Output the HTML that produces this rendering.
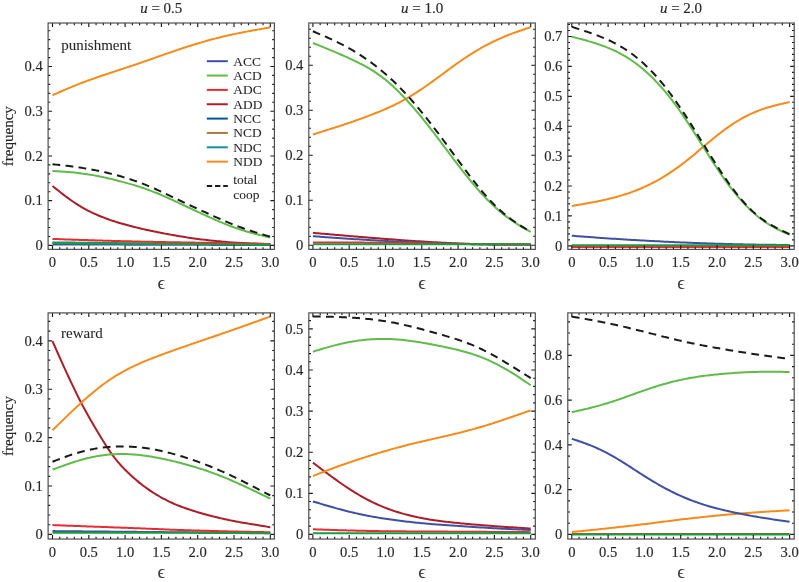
<!DOCTYPE html>
<html><head><meta charset="utf-8"><style>
html,body{margin:0;padding:0;background:#fff;width:799px;height:582px;overflow:hidden}
svg{display:block;will-change:transform}
text{stroke:#2a2a2a;stroke-width:0.16px;paint-order:stroke}
.t2,.lg{stroke-width:0.08px}
.eps{stroke-width:0.05px}
.t{font-family:"Liberation Serif",serif;font-size:14.6px;fill:#262626}
.ti{font-family:"Liberation Serif",serif;font-size:15px;fill:#262626}
.fq{font-family:"Liberation Serif",serif;font-size:15px;fill:#262626}
.t2{font-family:"Liberation Serif",serif;font-size:15px;fill:#262626}
.lg{font-family:"Liberation Serif",serif;font-size:13.4px;fill:#262626}
.eps{font-family:"Liberation Serif",serif;font-size:19px;fill:#3a3a3a}
</style></head><body>
<svg width="799" height="582" viewBox="0 0 799 582">
<rect width="799" height="582" fill="#fff"/>
<path d="M52.50,185.98 L54.31,187.44 L56.13,188.89 L57.95,190.33 L59.76,191.76 L61.58,193.18 L63.39,194.59 L65.20,195.97 L67.02,197.33 L68.84,198.66 L70.65,199.96 L72.47,201.23 L74.28,202.47 L76.09,203.67 L77.91,204.83 L79.72,205.96 L81.54,207.04 L83.36,208.09 L85.17,209.11 L86.98,210.08 L88.80,211.02 L90.62,211.93 L92.43,212.80 L94.25,213.64 L96.06,214.45 L97.88,215.23 L99.69,215.99 L101.50,216.72 L103.32,217.43 L105.14,218.12 L106.95,218.79 L108.77,219.44 L110.58,220.07 L112.40,220.68 L114.21,221.28 L116.02,221.86 L117.84,222.42 L119.66,222.98 L121.47,223.52 L123.28,224.04 L125.10,224.55 L126.92,225.06 L128.73,225.54 L130.54,226.02 L132.36,226.49 L134.18,226.95 L135.99,227.40 L137.81,227.84 L139.62,228.27 L141.44,228.69 L143.25,229.11 L145.06,229.51 L146.88,229.91 L148.69,230.31 L150.51,230.69 L152.32,231.07 L154.14,231.45 L155.95,231.82 L157.77,232.19 L159.58,232.55 L161.40,232.91 L163.22,233.26 L165.03,233.61 L166.84,233.95 L168.66,234.29 L170.47,234.63 L172.29,234.96 L174.10,235.28 L175.92,235.60 L177.74,235.92 L179.55,236.22 L181.37,236.52 L183.18,236.82 L185.00,237.10 L186.81,237.38 L188.62,237.66 L190.44,237.93 L192.25,238.19 L194.07,238.44 L195.88,238.69 L197.70,238.93 L199.51,239.17 L201.33,239.40 L203.15,239.62 L204.96,239.84 L206.77,240.05 L208.59,240.25 L210.41,240.45 L212.22,240.65 L214.03,240.84 L215.85,241.02 L217.66,241.20 L219.48,241.37 L221.29,241.54 L223.11,241.70 L224.92,241.85 L226.74,242.00 L228.56,242.14 L230.37,242.27 L232.19,242.40 L234.00,242.53 L235.81,242.65 L237.63,242.76 L239.44,242.86 L241.26,242.96 L243.07,243.06 L244.89,243.15 L246.71,243.23 L248.52,243.31 L250.33,243.39 L252.15,243.46 L253.97,243.53 L255.78,243.59 L257.60,243.66 L259.41,243.72 L261.23,243.77 L263.04,243.83 L264.86,243.88 L266.67,243.94 L268.49,243.99 L270.30,244.04" fill="none" stroke="#ab1e29" stroke-width="2.00" stroke-linejoin="round"/>
<path d="M52.50,244.42 L54.31,244.42 L56.13,244.43 L57.95,244.43 L59.76,244.44 L61.58,244.44 L63.39,244.45 L65.20,244.45 L67.02,244.46 L68.84,244.46 L70.65,244.47 L72.47,244.47 L74.28,244.48 L76.09,244.48 L77.91,244.49 L79.72,244.49 L81.54,244.50 L83.36,244.50 L85.17,244.51 L86.98,244.52 L88.80,244.52 L90.62,244.53 L92.43,244.53 L94.25,244.54 L96.06,244.54 L97.88,244.55 L99.69,244.55 L101.50,244.56 L103.32,244.56 L105.14,244.57 L106.95,244.57 L108.77,244.58 L110.58,244.58 L112.40,244.59 L114.21,244.59 L116.02,244.60 L117.84,244.60 L119.66,244.61 L121.47,244.61 L123.28,244.62 L125.10,244.62 L126.92,244.63 L128.73,244.64 L130.54,244.64 L132.36,244.65 L134.18,244.65 L135.99,244.66 L137.81,244.66 L139.62,244.67 L141.44,244.67 L143.25,244.68 L145.06,244.68 L146.88,244.69 L148.69,244.69 L150.51,244.70 L152.32,244.70 L154.14,244.71 L155.95,244.71 L157.77,244.72 L159.58,244.72 L161.40,244.73 L163.22,244.73 L165.03,244.74 L166.84,244.74 L168.66,244.75 L170.47,244.76 L172.29,244.76 L174.10,244.77 L175.92,244.77 L177.74,244.78 L179.55,244.78 L181.37,244.79 L183.18,244.79 L185.00,244.80 L186.81,244.80 L188.62,244.81 L190.44,244.81 L192.25,244.82 L194.07,244.82 L195.88,244.83 L197.70,244.83 L199.51,244.84 L201.33,244.84 L203.15,244.85 L204.96,244.85 L206.77,244.86 L208.59,244.86 L210.41,244.87 L212.22,244.88 L214.03,244.88 L215.85,244.89 L217.66,244.89 L219.48,244.90 L221.29,244.90 L223.11,244.91 L224.92,244.91 L226.74,244.92 L228.56,244.92 L230.37,244.93 L232.19,244.93 L234.00,244.94 L235.81,244.94 L237.63,244.95 L239.44,244.95 L241.26,244.96 L243.07,244.96 L244.89,244.97 L246.71,244.97 L248.52,244.98 L250.33,244.98 L252.15,244.99 L253.97,245.00 L255.78,245.00 L257.60,245.01 L259.41,245.01 L261.23,245.02 L263.04,245.02 L264.86,245.03 L266.67,245.03 L268.49,245.04 L270.30,245.04" fill="none" stroke="#4050a0" stroke-width="2.00" stroke-linejoin="round"/>
<path d="M52.50,242.36 L54.31,242.38 L56.13,242.40 L57.95,242.42 L59.76,242.44 L61.58,242.46 L63.39,242.48 L65.20,242.50 L67.02,242.53 L68.84,242.55 L70.65,242.57 L72.47,242.59 L74.28,242.61 L76.09,242.63 L77.91,242.65 L79.72,242.67 L81.54,242.69 L83.36,242.71 L85.17,242.73 L86.98,242.76 L88.80,242.78 L90.62,242.80 L92.43,242.82 L94.25,242.84 L96.06,242.86 L97.88,242.88 L99.69,242.90 L101.50,242.92 L103.32,242.94 L105.14,242.96 L106.95,242.98 L108.77,243.01 L110.58,243.03 L112.40,243.05 L114.21,243.07 L116.02,243.09 L117.84,243.11 L119.66,243.13 L121.47,243.15 L123.28,243.17 L125.10,243.19 L126.92,243.21 L128.73,243.24 L130.54,243.26 L132.36,243.28 L134.18,243.30 L135.99,243.32 L137.81,243.34 L139.62,243.36 L141.44,243.38 L143.25,243.40 L145.06,243.42 L146.88,243.44 L148.69,243.46 L150.51,243.49 L152.32,243.51 L154.14,243.53 L155.95,243.55 L157.77,243.57 L159.58,243.59 L161.40,243.61 L163.22,243.62 L165.03,243.63 L166.84,243.65 L168.66,243.66 L170.47,243.67 L172.29,243.68 L174.10,243.69 L175.92,243.71 L177.74,243.72 L179.55,243.73 L181.37,243.74 L183.18,243.75 L185.00,243.77 L186.81,243.78 L188.62,243.79 L190.44,243.80 L192.25,243.81 L194.07,243.83 L195.88,243.84 L197.70,243.85 L199.51,243.86 L201.33,243.87 L203.15,243.89 L204.96,243.90 L206.77,243.91 L208.59,243.92 L210.41,243.93 L212.22,243.94 L214.03,243.96 L215.85,243.97 L217.66,243.98 L219.48,243.99 L221.29,244.00 L223.11,244.02 L224.92,244.03 L226.74,244.04 L228.56,244.05 L230.37,244.06 L232.19,244.08 L234.00,244.09 L235.81,244.10 L237.63,244.11 L239.44,244.12 L241.26,244.14 L243.07,244.15 L244.89,244.16 L246.71,244.17 L248.52,244.18 L250.33,244.20 L252.15,244.21 L253.97,244.22 L255.78,244.23 L257.60,244.24 L259.41,244.26 L261.23,244.27 L263.04,244.28 L264.86,244.29 L266.67,244.30 L268.49,244.31 L270.30,244.33" fill="none" stroke="#159098" stroke-width="2.00" stroke-linejoin="round"/>
<path d="M52.50,238.91 L54.31,238.98 L56.13,239.05 L57.95,239.12 L59.76,239.18 L61.58,239.25 L63.39,239.31 L65.20,239.38 L67.02,239.44 L68.84,239.51 L70.65,239.57 L72.47,239.63 L74.28,239.70 L76.09,239.76 L77.91,239.82 L79.72,239.88 L81.54,239.94 L83.36,240.00 L85.17,240.06 L86.98,240.12 L88.80,240.18 L90.62,240.24 L92.43,240.30 L94.25,240.35 L96.06,240.41 L97.88,240.47 L99.69,240.52 L101.50,240.58 L103.32,240.63 L105.14,240.68 L106.95,240.74 L108.77,240.79 L110.58,240.84 L112.40,240.89 L114.21,240.94 L116.02,240.99 L117.84,241.04 L119.66,241.09 L121.47,241.14 L123.28,241.19 L125.10,241.24 L126.92,241.28 L128.73,241.33 L130.54,241.37 L132.36,241.42 L134.18,241.46 L135.99,241.51 L137.81,241.55 L139.62,241.59 L141.44,241.63 L143.25,241.67 L145.06,241.71 L146.88,241.75 L148.69,241.79 L150.51,241.83 L152.32,241.86 L154.14,241.90 L155.95,241.93 L157.77,241.97 L159.58,242.00 L161.40,242.04 L163.22,242.07 L165.03,242.11 L166.84,242.14 L168.66,242.17 L170.47,242.20 L172.29,242.23 L174.10,242.27 L175.92,242.30 L177.74,242.33 L179.55,242.36 L181.37,242.39 L183.18,242.42 L185.00,242.45 L186.81,242.48 L188.62,242.52 L190.44,242.55 L192.25,242.58 L194.07,242.61 L195.88,242.64 L197.70,242.67 L199.51,242.70 L201.33,242.74 L203.15,242.77 L204.96,242.80 L206.77,242.84 L208.59,242.87 L210.41,242.90 L212.22,242.94 L214.03,242.97 L215.85,243.01 L217.66,243.04 L219.48,243.08 L221.29,243.11 L223.11,243.14 L224.92,243.18 L226.74,243.21 L228.56,243.25 L230.37,243.28 L232.19,243.32 L234.00,243.35 L235.81,243.39 L237.63,243.42 L239.44,243.46 L241.26,243.49 L243.07,243.53 L244.89,243.56 L246.71,243.60 L248.52,243.63 L250.33,243.67 L252.15,243.70 L253.97,243.74 L255.78,243.77 L257.60,243.81 L259.41,243.85 L261.23,243.88 L263.04,243.92 L264.86,243.95 L266.67,243.99 L268.49,244.02 L270.30,244.06" fill="none" stroke="#ec2a33" stroke-width="2.00" stroke-linejoin="round"/>
<path d="M52.50,243.07 L54.31,243.09 L56.13,243.11 L57.95,243.13 L59.76,243.14 L61.58,243.16 L63.39,243.18 L65.20,243.19 L67.02,243.21 L68.84,243.23 L70.65,243.24 L72.47,243.26 L74.28,243.28 L76.09,243.29 L77.91,243.31 L79.72,243.32 L81.54,243.34 L83.36,243.35 L85.17,243.37 L86.98,243.39 L88.80,243.40 L90.62,243.42 L92.43,243.43 L94.25,243.45 L96.06,243.46 L97.88,243.48 L99.69,243.49 L101.50,243.51 L103.32,243.52 L105.14,243.53 L106.95,243.55 L108.77,243.56 L110.58,243.58 L112.40,243.59 L114.21,243.61 L116.02,243.62 L117.84,243.63 L119.66,243.65 L121.47,243.66 L123.28,243.67 L125.10,243.69 L126.92,243.70 L128.73,243.71 L130.54,243.72 L132.36,243.74 L134.18,243.75 L135.99,243.76 L137.81,243.78 L139.62,243.79 L141.44,243.80 L143.25,243.81 L145.06,243.82 L146.88,243.83 L148.69,243.84 L150.51,243.86 L152.32,243.87 L154.14,243.88 L155.95,243.89 L157.77,243.90 L159.58,243.91 L161.40,243.92 L163.22,243.92 L165.03,243.93 L166.84,243.94 L168.66,243.95 L170.47,243.96 L172.29,243.97 L174.10,243.98 L175.92,243.99 L177.74,244.00 L179.55,244.01 L181.37,244.02 L183.18,244.03 L185.00,244.04 L186.81,244.05 L188.62,244.06 L190.44,244.07 L192.25,244.08 L194.07,244.09 L195.88,244.10 L197.70,244.11 L199.51,244.12 L201.33,244.13 L203.15,244.14 L204.96,244.16 L206.77,244.17 L208.59,244.18 L210.41,244.20 L212.22,244.21 L214.03,244.22 L215.85,244.24 L217.66,244.25 L219.48,244.27 L221.29,244.28 L223.11,244.30 L224.92,244.32 L226.74,244.33 L228.56,244.35 L230.37,244.37 L232.19,244.39 L234.00,244.40 L235.81,244.42 L237.63,244.44 L239.44,244.46 L241.26,244.48 L243.07,244.50 L244.89,244.52 L246.71,244.54 L248.52,244.56 L250.33,244.58 L252.15,244.60 L253.97,244.62 L255.78,244.64 L257.60,244.66 L259.41,244.69 L261.23,244.71 L263.04,244.73 L264.86,244.75 L266.67,244.77 L268.49,244.80 L270.30,244.82" fill="none" stroke="#14a040" stroke-width="2.00" stroke-linejoin="round"/>
<path d="M52.50,171.00 L54.31,171.10 L56.13,171.20 L57.95,171.30 L59.76,171.41 L61.58,171.52 L63.39,171.64 L65.20,171.77 L67.02,171.90 L68.84,172.05 L70.65,172.20 L72.47,172.37 L74.28,172.55 L76.09,172.74 L77.91,172.94 L79.72,173.16 L81.54,173.39 L83.36,173.64 L85.17,173.89 L86.98,174.17 L88.80,174.45 L90.62,174.75 L92.43,175.06 L94.25,175.39 L96.06,175.73 L97.88,176.08 L99.69,176.45 L101.50,176.83 L103.32,177.22 L105.14,177.62 L106.95,178.03 L108.77,178.45 L110.58,178.88 L112.40,179.32 L114.21,179.77 L116.02,180.23 L117.84,180.69 L119.66,181.16 L121.47,181.64 L123.28,182.12 L125.10,182.61 L126.92,183.10 L128.73,183.60 L130.54,184.11 L132.36,184.63 L134.18,185.16 L135.99,185.71 L137.81,186.27 L139.62,186.84 L141.44,187.44 L143.25,188.05 L145.06,188.67 L146.88,189.32 L148.69,189.98 L150.51,190.65 L152.32,191.35 L154.14,192.06 L155.95,192.79 L157.77,193.53 L159.58,194.29 L161.40,195.06 L163.22,195.85 L165.03,196.64 L166.84,197.45 L168.66,198.27 L170.47,199.09 L172.29,199.93 L174.10,200.77 L175.92,201.61 L177.74,202.46 L179.55,203.31 L181.37,204.16 L183.18,205.02 L185.00,205.87 L186.81,206.73 L188.62,207.58 L190.44,208.43 L192.25,209.28 L194.07,210.13 L195.88,210.98 L197.70,211.83 L199.51,212.67 L201.33,213.51 L203.15,214.35 L204.96,215.18 L206.77,216.01 L208.59,216.83 L210.41,217.65 L212.22,218.46 L214.03,219.26 L215.85,220.06 L217.66,220.85 L219.48,221.62 L221.29,222.39 L223.11,223.14 L224.92,223.88 L226.74,224.61 L228.56,225.31 L230.37,226.01 L232.19,226.69 L234.00,227.35 L235.81,227.99 L237.63,228.62 L239.44,229.23 L241.26,229.82 L243.07,230.40 L244.89,230.96 L246.71,231.50 L248.52,232.03 L250.33,232.55 L252.15,233.05 L253.97,233.53 L255.78,234.01 L257.60,234.47 L259.41,234.93 L261.23,235.37 L263.04,235.81 L264.86,236.24 L266.67,236.67 L268.49,237.09 L270.30,237.52" fill="none" stroke="#60bb4a" stroke-width="2.00" stroke-linejoin="round"/>
<path d="M52.50,95.27 L54.31,94.45 L56.13,93.64 L57.95,92.83 L59.76,92.02 L61.58,91.22 L63.39,90.42 L65.20,89.64 L67.02,88.86 L68.84,88.09 L70.65,87.32 L72.47,86.57 L74.28,85.83 L76.09,85.10 L77.91,84.38 L79.72,83.67 L81.54,82.97 L83.36,82.28 L85.17,81.60 L86.98,80.92 L88.80,80.26 L90.62,79.61 L92.43,78.96 L94.25,78.32 L96.06,77.69 L97.88,77.06 L99.69,76.44 L101.50,75.82 L103.32,75.21 L105.14,74.61 L106.95,74.00 L108.77,73.40 L110.58,72.80 L112.40,72.21 L114.21,71.61 L116.02,71.01 L117.84,70.42 L119.66,69.82 L121.47,69.22 L123.28,68.63 L125.10,68.03 L126.92,67.42 L128.73,66.82 L130.54,66.21 L132.36,65.60 L134.18,64.99 L135.99,64.38 L137.81,63.76 L139.62,63.14 L141.44,62.51 L143.25,61.89 L145.06,61.26 L146.88,60.62 L148.69,59.99 L150.51,59.35 L152.32,58.71 L154.14,58.07 L155.95,57.42 L157.77,56.78 L159.58,56.14 L161.40,55.49 L163.22,54.85 L165.03,54.22 L166.84,53.58 L168.66,52.95 L170.47,52.32 L172.29,51.70 L174.10,51.08 L175.92,50.46 L177.74,49.85 L179.55,49.24 L181.37,48.64 L183.18,48.04 L185.00,47.45 L186.81,46.87 L188.62,46.28 L190.44,45.71 L192.25,45.14 L194.07,44.58 L195.88,44.02 L197.70,43.47 L199.51,42.92 L201.33,42.39 L203.15,41.86 L204.96,41.34 L206.77,40.82 L208.59,40.32 L210.41,39.82 L212.22,39.33 L214.03,38.85 L215.85,38.38 L217.66,37.92 L219.48,37.46 L221.29,37.02 L223.11,36.58 L224.92,36.15 L226.74,35.73 L228.56,35.32 L230.37,34.92 L232.19,34.52 L234.00,34.14 L235.81,33.76 L237.63,33.38 L239.44,33.02 L241.26,32.66 L243.07,32.30 L244.89,31.95 L246.71,31.61 L248.52,31.27 L250.33,30.94 L252.15,30.60 L253.97,30.27 L255.78,29.95 L257.60,29.62 L259.41,29.29 L261.23,28.97 L263.04,28.64 L264.86,28.32 L266.67,28.00 L268.49,27.67 L270.30,27.35" fill="none" stroke="#f68a1a" stroke-width="2.00" stroke-linejoin="round"/>
<path d="M52.50,164.23 L54.31,164.42 L56.13,164.62 L57.95,164.81 L59.76,165.01 L61.58,165.21 L63.39,165.42 L65.20,165.63 L67.02,165.84 L68.84,166.07 L70.65,166.30 L72.47,166.54 L74.28,166.78 L76.09,167.03 L77.91,167.29 L79.72,167.56 L81.54,167.84 L83.36,168.12 L85.17,168.42 L86.98,168.72 L88.80,169.04 L90.62,169.36 L92.43,169.70 L94.25,170.04 L96.06,170.39 L97.88,170.76 L99.69,171.14 L101.50,171.52 L103.32,171.92 L105.14,172.33 L106.95,172.75 L108.77,173.19 L110.58,173.64 L112.40,174.10 L114.21,174.57 L116.02,175.05 L117.84,175.55 L119.66,176.05 L121.47,176.57 L123.28,177.10 L125.10,177.65 L126.92,178.20 L128.73,178.78 L130.54,179.36 L132.36,179.96 L134.18,180.58 L135.99,181.21 L137.81,181.86 L139.62,182.53 L141.44,183.21 L143.25,183.91 L145.06,184.62 L146.88,185.36 L148.69,186.10 L150.51,186.87 L152.32,187.65 L154.14,188.45 L155.95,189.27 L157.77,190.09 L159.58,190.93 L161.40,191.78 L163.22,192.63 L165.03,193.48 L166.84,194.34 L168.66,195.21 L170.47,196.07 L172.29,196.93 L174.10,197.79 L175.92,198.66 L177.74,199.52 L179.55,200.38 L181.37,201.24 L183.18,202.09 L185.00,202.94 L186.81,203.79 L188.62,204.64 L190.44,205.49 L192.25,206.33 L194.07,207.17 L195.88,208.01 L197.70,208.85 L199.51,209.68 L201.33,210.52 L203.15,211.35 L204.96,212.18 L206.77,213.01 L208.59,213.84 L210.41,214.67 L212.22,215.49 L214.03,216.31 L215.85,217.13 L217.66,217.94 L219.48,218.74 L221.29,219.54 L223.11,220.32 L224.92,221.10 L226.74,221.87 L228.56,222.62 L230.37,223.37 L232.19,224.10 L234.00,224.81 L235.81,225.52 L237.63,226.21 L239.44,226.89 L241.26,227.55 L243.07,228.20 L244.89,228.83 L246.71,229.46 L248.52,230.07 L250.33,230.67 L252.15,231.25 L253.97,231.83 L255.78,232.40 L257.60,232.95 L259.41,233.50 L261.23,234.05 L263.04,234.58 L264.86,235.11 L266.67,235.64 L268.49,236.17 L270.30,236.69" fill="none" stroke="#1a1a1a" stroke-width="2.00" stroke-linejoin="round" stroke-dasharray="7.8,5.3"/>
<path d="M52.50,249.35 v-4.00 M52.50,23.00 v4.00 M59.76,249.35 v-2.20 M59.76,23.00 v2.20 M67.02,249.35 v-2.20 M67.02,23.00 v2.20 M74.28,249.35 v-2.20 M74.28,23.00 v2.20 M81.54,249.35 v-2.20 M81.54,23.00 v2.20 M88.80,249.35 v-4.00 M88.80,23.00 v4.00 M96.06,249.35 v-2.20 M96.06,23.00 v2.20 M103.32,249.35 v-2.20 M103.32,23.00 v2.20 M110.58,249.35 v-2.20 M110.58,23.00 v2.20 M117.84,249.35 v-2.20 M117.84,23.00 v2.20 M125.10,249.35 v-4.00 M125.10,23.00 v4.00 M132.36,249.35 v-2.20 M132.36,23.00 v2.20 M139.62,249.35 v-2.20 M139.62,23.00 v2.20 M146.88,249.35 v-2.20 M146.88,23.00 v2.20 M154.14,249.35 v-2.20 M154.14,23.00 v2.20 M161.40,249.35 v-4.00 M161.40,23.00 v4.00 M168.66,249.35 v-2.20 M168.66,23.00 v2.20 M175.92,249.35 v-2.20 M175.92,23.00 v2.20 M183.18,249.35 v-2.20 M183.18,23.00 v2.20 M190.44,249.35 v-2.20 M190.44,23.00 v2.20 M197.70,249.35 v-4.00 M197.70,23.00 v4.00 M204.96,249.35 v-2.20 M204.96,23.00 v2.20 M212.22,249.35 v-2.20 M212.22,23.00 v2.20 M219.48,249.35 v-2.20 M219.48,23.00 v2.20 M226.74,249.35 v-2.20 M226.74,23.00 v2.20 M234.00,249.35 v-4.00 M234.00,23.00 v4.00 M241.26,249.35 v-2.20 M241.26,23.00 v2.20 M248.52,249.35 v-2.20 M248.52,23.00 v2.20 M255.78,249.35 v-2.20 M255.78,23.00 v2.20 M263.04,249.35 v-2.20 M263.04,23.00 v2.20 M270.30,249.35 v-4.00 M270.30,23.00 v4.00 M48.10,245.40 h4.00 M274.40,245.40 h-4.00 M48.10,236.46 h2.20 M274.40,236.46 h-2.20 M48.10,227.51 h2.20 M274.40,227.51 h-2.20 M48.10,218.56 h2.20 M274.40,218.56 h-2.20 M48.10,209.62 h2.20 M274.40,209.62 h-2.20 M48.10,200.68 h4.00 M274.40,200.68 h-4.00 M48.10,191.73 h2.20 M274.40,191.73 h-2.20 M48.10,182.78 h2.20 M274.40,182.78 h-2.20 M48.10,173.84 h2.20 M274.40,173.84 h-2.20 M48.10,164.90 h2.20 M274.40,164.90 h-2.20 M48.10,155.95 h4.00 M274.40,155.95 h-4.00 M48.10,147.00 h2.20 M274.40,147.00 h-2.20 M48.10,138.06 h2.20 M274.40,138.06 h-2.20 M48.10,129.12 h2.20 M274.40,129.12 h-2.20 M48.10,120.17 h2.20 M274.40,120.17 h-2.20 M48.10,111.23 h4.00 M274.40,111.23 h-4.00 M48.10,102.28 h2.20 M274.40,102.28 h-2.20 M48.10,93.34 h2.20 M274.40,93.34 h-2.20 M48.10,84.39 h2.20 M274.40,84.39 h-2.20 M48.10,75.44 h2.20 M274.40,75.44 h-2.20 M48.10,66.50 h4.00 M274.40,66.50 h-4.00 M48.10,57.56 h2.20 M274.40,57.56 h-2.20 M48.10,48.61 h2.20 M274.40,48.61 h-2.20 M48.10,39.66 h2.20 M274.40,39.66 h-2.20 M48.10,30.72 h2.20 M274.40,30.72 h-2.20" stroke="#1a1a1a" stroke-width="1.15" fill="none"/>
<rect x="48.10" y="23.00" width="226.30" height="226.35" fill="none" stroke="#474747" stroke-width="1.15"/>
<text x="42.70" y="250.10" text-anchor="end" class="t">0</text>
<text x="42.70" y="205.38" text-anchor="end" class="t">0.1</text>
<text x="42.70" y="160.65" text-anchor="end" class="t">0.2</text>
<text x="42.70" y="115.93" text-anchor="end" class="t">0.3</text>
<text x="42.70" y="71.20" text-anchor="end" class="t">0.4</text>
<text x="52.50" y="266.85" text-anchor="middle" class="t">0</text>
<text x="88.80" y="266.85" text-anchor="middle" class="t">0.5</text>
<text x="125.10" y="266.85" text-anchor="middle" class="t">1.0</text>
<text x="161.40" y="266.85" text-anchor="middle" class="t">1.5</text>
<text x="197.70" y="266.85" text-anchor="middle" class="t">2.0</text>
<text x="234.00" y="266.85" text-anchor="middle" class="t">2.5</text>
<text x="270.30" y="266.85" text-anchor="middle" class="t">3.0</text>
<text x="161.25" y="288.55" text-anchor="middle" class="eps">&#x3F5;</text>
<path d="M312.90,232.84 L314.71,233.00 L316.53,233.16 L318.34,233.31 L320.16,233.47 L321.97,233.63 L323.79,233.79 L325.60,233.95 L327.42,234.10 L329.23,234.26 L331.05,234.42 L332.86,234.57 L334.68,234.73 L336.50,234.89 L338.31,235.05 L340.12,235.20 L341.94,235.36 L343.75,235.51 L345.57,235.67 L347.38,235.82 L349.20,235.98 L351.01,236.13 L352.83,236.29 L354.64,236.44 L356.46,236.59 L358.27,236.74 L360.09,236.89 L361.90,237.05 L363.72,237.20 L365.53,237.34 L367.35,237.49 L369.16,237.64 L370.98,237.79 L372.79,237.93 L374.61,238.08 L376.42,238.23 L378.24,238.37 L380.05,238.51 L381.87,238.65 L383.68,238.79 L385.50,238.93 L387.31,239.07 L389.13,239.21 L390.94,239.35 L392.76,239.48 L394.57,239.62 L396.39,239.75 L398.20,239.89 L400.02,240.02 L401.83,240.15 L403.65,240.27 L405.46,240.40 L407.28,240.53 L409.09,240.65 L410.91,240.78 L412.72,240.90 L414.54,241.02 L416.35,241.14 L418.17,241.25 L419.98,241.37 L421.80,241.48 L423.62,241.60 L425.43,241.71 L427.25,241.82 L429.06,241.93 L430.88,242.03 L432.69,242.14 L434.50,242.24 L436.32,242.34 L438.13,242.44 L439.95,242.54 L441.76,242.63 L443.58,242.72 L445.39,242.82 L447.21,242.91 L449.02,242.99 L450.84,243.08 L452.65,243.16 L454.47,243.24 L456.28,243.32 L458.10,243.40 L459.91,243.47 L461.73,243.55 L463.54,243.62 L465.36,243.69 L467.17,243.75 L468.99,243.82 L470.80,243.88 L472.62,243.94 L474.43,243.99 L476.25,244.05 L478.06,244.10 L479.88,244.15 L481.69,244.20 L483.51,244.24 L485.32,244.28 L487.14,244.32 L488.95,244.36 L490.77,244.39 L492.58,244.42 L494.40,244.45 L496.21,244.48 L498.03,244.50 L499.84,244.52 L501.66,244.54 L503.47,244.55 L505.29,244.57 L507.11,244.57 L508.92,244.58 L510.73,244.58 L512.55,244.58 L514.37,244.58 L516.18,244.58 L518.00,244.57 L519.81,244.55 L521.62,244.54 L523.44,244.52 L525.25,244.50 L527.07,244.47 L528.88,244.45 L530.70,244.42" fill="none" stroke="#ab1e29" stroke-width="2.00" stroke-linejoin="round"/>
<path d="M312.90,236.20 L314.71,236.34 L316.53,236.48 L318.34,236.61 L320.16,236.75 L321.97,236.88 L323.79,237.02 L325.60,237.15 L327.42,237.28 L329.23,237.41 L331.05,237.54 L332.86,237.67 L334.68,237.80 L336.50,237.92 L338.31,238.05 L340.12,238.17 L341.94,238.30 L343.75,238.42 L345.57,238.54 L347.38,238.66 L349.20,238.78 L351.01,238.90 L352.83,239.02 L354.64,239.14 L356.46,239.25 L358.27,239.37 L360.09,239.48 L361.90,239.59 L363.72,239.70 L365.53,239.81 L367.35,239.92 L369.16,240.03 L370.98,240.14 L372.79,240.25 L374.61,240.35 L376.42,240.45 L378.24,240.56 L380.05,240.66 L381.87,240.76 L383.68,240.86 L385.50,240.96 L387.31,241.05 L389.13,241.15 L390.94,241.24 L392.76,241.34 L394.57,241.43 L396.39,241.52 L398.20,241.61 L400.02,241.70 L401.83,241.79 L403.65,241.87 L405.46,241.96 L407.28,242.04 L409.09,242.12 L410.91,242.20 L412.72,242.28 L414.54,242.36 L416.35,242.44 L418.17,242.51 L419.98,242.59 L421.80,242.66 L423.62,242.73 L425.43,242.81 L427.25,242.87 L429.06,242.94 L430.88,243.01 L432.69,243.07 L434.50,243.14 L436.32,243.20 L438.13,243.26 L439.95,243.32 L441.76,243.38 L443.58,243.44 L445.39,243.49 L447.21,243.55 L449.02,243.60 L450.84,243.65 L452.65,243.70 L454.47,243.75 L456.28,243.80 L458.10,243.84 L459.91,243.89 L461.73,243.93 L463.54,243.97 L465.36,244.01 L467.17,244.05 L468.99,244.09 L470.80,244.12 L472.62,244.15 L474.43,244.19 L476.25,244.22 L478.06,244.25 L479.88,244.27 L481.69,244.30 L483.51,244.32 L485.32,244.35 L487.14,244.37 L488.95,244.39 L490.77,244.41 L492.58,244.42 L494.40,244.44 L496.21,244.45 L498.03,244.46 L499.84,244.47 L501.66,244.48 L503.47,244.49 L505.29,244.49 L507.11,244.50 L508.92,244.50 L510.73,244.50 L512.55,244.50 L514.37,244.49 L516.18,244.49 L518.00,244.48 L519.81,244.48 L521.62,244.47 L523.44,244.45 L525.25,244.44 L527.07,244.42 L528.88,244.41 L530.70,244.39" fill="none" stroke="#4050a0" stroke-width="2.00" stroke-linejoin="round"/>
<path d="M312.90,242.50 L314.71,242.50 L316.53,242.50 L318.34,242.50 L320.16,242.50 L321.97,242.50 L323.79,242.51 L325.60,242.51 L327.42,242.51 L329.23,242.51 L331.05,242.52 L332.86,242.52 L334.68,242.52 L336.50,242.53 L338.31,242.53 L340.12,242.54 L341.94,242.54 L343.75,242.55 L345.57,242.55 L347.38,242.56 L349.20,242.57 L351.01,242.57 L352.83,242.58 L354.64,242.58 L356.46,242.59 L358.27,242.60 L360.09,242.61 L361.90,242.61 L363.72,242.62 L365.53,242.63 L367.35,242.64 L369.16,242.64 L370.98,242.65 L372.79,242.66 L374.61,242.67 L376.42,242.68 L378.24,242.69 L380.05,242.70 L381.87,242.71 L383.68,242.72 L385.50,242.72 L387.31,242.74 L389.13,242.75 L390.94,242.76 L392.76,242.78 L394.57,242.80 L396.39,242.82 L398.20,242.85 L400.02,242.87 L401.83,242.90 L403.65,242.93 L405.46,242.96 L407.28,242.99 L409.09,243.03 L410.91,243.06 L412.72,243.10 L414.54,243.13 L416.35,243.17 L418.17,243.21 L419.98,243.25 L421.80,243.29 L423.62,243.32 L425.43,243.36 L427.25,243.40 L429.06,243.44 L430.88,243.48 L432.69,243.52 L434.50,243.56 L436.32,243.60 L438.13,243.64 L439.95,243.68 L441.76,243.72 L443.58,243.75 L445.39,243.79 L447.21,243.82 L449.02,243.85 L450.84,243.89 L452.65,243.92 L454.47,243.95 L456.28,243.97 L458.10,244.00 L459.91,244.02 L461.73,244.04 L463.54,244.06 L465.36,244.08 L467.17,244.10 L468.99,244.12 L470.80,244.13 L472.62,244.15 L474.43,244.17 L476.25,244.18 L478.06,244.20 L479.88,244.22 L481.69,244.23 L483.51,244.25 L485.32,244.26 L487.14,244.28 L488.95,244.29 L490.77,244.31 L492.58,244.32 L494.40,244.34 L496.21,244.35 L498.03,244.36 L499.84,244.38 L501.66,244.39 L503.47,244.40 L505.29,244.41 L507.11,244.42 L508.92,244.44 L510.73,244.45 L512.55,244.46 L514.37,244.47 L516.18,244.47 L518.00,244.48 L519.81,244.49 L521.62,244.50 L523.44,244.50 L525.25,244.51 L527.07,244.52 L528.88,244.52 L530.70,244.52" fill="none" stroke="#ec2a33" stroke-width="2.00" stroke-linejoin="round"/>
<path d="M312.90,244.21 L314.71,244.21 L316.53,244.21 L318.34,244.21 L320.16,244.21 L321.97,244.21 L323.79,244.21 L325.60,244.21 L327.42,244.21 L329.23,244.21 L331.05,244.21 L332.86,244.21 L334.68,244.21 L336.50,244.21 L338.31,244.21 L340.12,244.21 L341.94,244.21 L343.75,244.21 L345.57,244.21 L347.38,244.21 L349.20,244.21 L351.01,244.21 L352.83,244.21 L354.64,244.21 L356.46,244.21 L358.27,244.21 L360.09,244.21 L361.90,244.21 L363.72,244.21 L365.53,244.21 L367.35,244.21 L369.16,244.21 L370.98,244.21 L372.79,244.21 L374.61,244.21 L376.42,244.21 L378.24,244.21 L380.05,244.21 L381.87,244.21 L383.68,244.21 L385.50,244.21 L387.31,244.21 L389.13,244.21 L390.94,244.21 L392.76,244.21 L394.57,244.21 L396.39,244.21 L398.20,244.21 L400.02,244.21 L401.83,244.21 L403.65,244.21 L405.46,244.21 L407.28,244.21 L409.09,244.21 L410.91,244.21 L412.72,244.21 L414.54,244.21 L416.35,244.21 L418.17,244.21 L419.98,244.21 L421.80,244.21 L423.62,244.21 L425.43,244.21 L427.25,244.21 L429.06,244.21 L430.88,244.21 L432.69,244.21 L434.50,244.21 L436.32,244.21 L438.13,244.21 L439.95,244.21 L441.76,244.21 L443.58,244.21 L445.39,244.21 L447.21,244.21 L449.02,244.21 L450.84,244.21 L452.65,244.21 L454.47,244.21 L456.28,244.21 L458.10,244.21 L459.91,244.21 L461.73,244.21 L463.54,244.21 L465.36,244.21 L467.17,244.21 L468.99,244.21 L470.80,244.21 L472.62,244.21 L474.43,244.21 L476.25,244.21 L478.06,244.21 L479.88,244.21 L481.69,244.21 L483.51,244.21 L485.32,244.21 L487.14,244.21 L488.95,244.21 L490.77,244.21 L492.58,244.21 L494.40,244.21 L496.21,244.21 L498.03,244.21 L499.84,244.21 L501.66,244.21 L503.47,244.21 L505.29,244.21 L507.11,244.21 L508.92,244.21 L510.73,244.21 L512.55,244.21 L514.37,244.21 L516.18,244.21 L518.00,244.21 L519.81,244.21 L521.62,244.21 L523.44,244.21 L525.25,244.21 L527.07,244.21 L528.88,244.21 L530.70,244.21" fill="none" stroke="#14a040" stroke-width="2.00" stroke-linejoin="round"/>
<path d="M312.90,134.50 L314.71,133.93 L316.53,133.36 L318.34,132.78 L320.16,132.21 L321.97,131.64 L323.79,131.06 L325.60,130.49 L327.42,129.91 L329.23,129.34 L331.05,128.76 L332.86,128.18 L334.68,127.60 L336.50,127.02 L338.31,126.43 L340.12,125.84 L341.94,125.25 L343.75,124.65 L345.57,124.05 L347.38,123.44 L349.20,122.83 L351.01,122.21 L352.83,121.58 L354.64,120.95 L356.46,120.31 L358.27,119.66 L360.09,119.01 L361.90,118.35 L363.72,117.68 L365.53,117.01 L367.35,116.33 L369.16,115.64 L370.98,114.94 L372.79,114.24 L374.61,113.52 L376.42,112.80 L378.24,112.07 L380.05,111.32 L381.87,110.57 L383.68,109.80 L385.50,109.01 L387.31,108.22 L389.13,107.40 L390.94,106.57 L392.76,105.72 L394.57,104.85 L396.39,103.95 L398.20,103.03 L400.02,102.09 L401.83,101.12 L403.65,100.13 L405.46,99.11 L407.28,98.07 L409.09,97.01 L410.91,95.93 L412.72,94.82 L414.54,93.69 L416.35,92.54 L418.17,91.37 L419.98,90.18 L421.80,88.97 L423.62,87.74 L425.43,86.50 L427.25,85.23 L429.06,83.95 L430.88,82.66 L432.69,81.36 L434.50,80.04 L436.32,78.71 L438.13,77.37 L439.95,76.03 L441.76,74.69 L443.58,73.34 L445.39,71.99 L447.21,70.64 L449.02,69.30 L450.84,67.97 L452.65,66.64 L454.47,65.32 L456.28,64.02 L458.10,62.73 L459.91,61.46 L461.73,60.20 L463.54,58.97 L465.36,57.75 L467.17,56.55 L468.99,55.38 L470.80,54.22 L472.62,53.08 L474.43,51.97 L476.25,50.87 L478.06,49.80 L479.88,48.74 L481.69,47.71 L483.51,46.70 L485.32,45.72 L487.14,44.75 L488.95,43.80 L490.77,42.88 L492.58,41.98 L494.40,41.10 L496.21,40.24 L498.03,39.41 L499.84,38.59 L501.66,37.80 L503.47,37.02 L505.29,36.26 L507.11,35.52 L508.92,34.80 L510.73,34.10 L512.55,33.41 L514.37,32.74 L516.18,32.08 L518.00,31.44 L519.81,30.80 L521.62,30.18 L523.44,29.57 L525.25,28.96 L527.07,28.36 L528.88,27.76 L530.70,27.17" fill="none" stroke="#f68a1a" stroke-width="2.00" stroke-linejoin="round"/>
<path d="M312.90,43.04 L314.71,43.75 L316.53,44.47 L318.34,45.19 L320.16,45.92 L321.97,46.64 L323.79,47.37 L325.60,48.11 L327.42,48.85 L329.23,49.59 L331.05,50.35 L332.86,51.11 L334.68,51.87 L336.50,52.65 L338.31,53.43 L340.12,54.22 L341.94,55.01 L343.75,55.82 L345.57,56.64 L347.38,57.46 L349.20,58.29 L351.01,59.14 L352.83,59.99 L354.64,60.86 L356.46,61.74 L358.27,62.64 L360.09,63.55 L361.90,64.48 L363.72,65.44 L365.53,66.42 L367.35,67.43 L369.16,68.48 L370.98,69.56 L372.79,70.68 L374.61,71.85 L376.42,73.05 L378.24,74.31 L380.05,75.61 L381.87,76.96 L383.68,78.35 L385.50,79.80 L387.31,81.29 L389.13,82.84 L390.94,84.43 L392.76,86.08 L394.57,87.76 L396.39,89.50 L398.20,91.28 L400.02,93.10 L401.83,94.95 L403.65,96.85 L405.46,98.78 L407.28,100.74 L409.09,102.73 L410.91,104.76 L412.72,106.82 L414.54,108.91 L416.35,111.03 L418.17,113.18 L419.98,115.36 L421.80,117.57 L423.62,119.81 L425.43,122.07 L427.25,124.37 L429.06,126.68 L430.88,129.02 L432.69,131.38 L434.50,133.76 L436.32,136.15 L438.13,138.56 L439.95,140.97 L441.76,143.39 L443.58,145.81 L445.39,148.23 L447.21,150.66 L449.02,153.07 L450.84,155.49 L452.65,157.90 L454.47,160.30 L456.28,162.68 L458.10,165.06 L459.91,167.41 L461.73,169.75 L463.54,172.07 L465.36,174.37 L467.17,176.65 L468.99,178.90 L470.80,181.12 L472.62,183.30 L474.43,185.46 L476.25,187.58 L478.06,189.67 L479.88,191.72 L481.69,193.72 L483.51,195.69 L485.32,197.61 L487.14,199.49 L488.95,201.32 L490.77,203.11 L492.58,204.86 L494.40,206.56 L496.21,208.21 L498.03,209.82 L499.84,211.38 L501.66,212.89 L503.47,214.36 L505.29,215.78 L507.11,217.16 L508.92,218.50 L510.73,219.79 L512.55,221.05 L514.37,222.26 L516.18,223.44 L518.00,224.59 L519.81,225.70 L521.62,226.79 L523.44,227.86 L525.25,228.91 L527.07,229.95 L528.88,230.98 L530.70,232.00" fill="none" stroke="#60bb4a" stroke-width="2.00" stroke-linejoin="round"/>
<path d="M312.90,31.28 L314.71,32.04 L316.53,32.81 L318.34,33.58 L320.16,34.35 L321.97,35.13 L323.79,35.91 L325.60,36.71 L327.42,37.51 L329.23,38.33 L331.05,39.16 L332.86,40.00 L334.68,40.86 L336.50,41.74 L338.31,42.63 L340.12,43.54 L341.94,44.47 L343.75,45.42 L345.57,46.39 L347.38,47.38 L349.20,48.39 L351.01,49.42 L352.83,50.48 L354.64,51.56 L356.46,52.66 L358.27,53.79 L360.09,54.95 L361.90,56.13 L363.72,57.34 L365.53,58.57 L367.35,59.83 L369.16,61.12 L370.98,62.43 L372.79,63.78 L374.61,65.15 L376.42,66.55 L378.24,67.98 L380.05,69.44 L381.87,70.93 L383.68,72.46 L385.50,74.02 L387.31,75.61 L389.13,77.24 L390.94,78.90 L392.76,80.59 L394.57,82.33 L396.39,84.09 L398.20,85.89 L400.02,87.73 L401.83,89.59 L403.65,91.50 L405.46,93.43 L407.28,95.40 L409.09,97.40 L410.91,99.43 L412.72,101.49 L414.54,103.59 L416.35,105.72 L418.17,107.87 L419.98,110.06 L421.80,112.27 L423.62,114.51 L425.43,116.77 L427.25,119.05 L429.06,121.36 L430.88,123.69 L432.69,126.04 L434.50,128.41 L436.32,130.79 L438.13,133.19 L439.95,135.61 L441.76,138.04 L443.58,140.48 L445.39,142.94 L447.21,145.40 L449.02,147.87 L450.84,150.35 L452.65,152.83 L454.47,155.30 L456.28,157.78 L458.10,160.25 L459.91,162.71 L461.73,165.17 L463.54,167.61 L465.36,170.04 L467.17,172.45 L468.99,174.85 L470.80,177.23 L472.62,179.58 L474.43,181.91 L476.25,184.21 L478.06,186.48 L479.88,188.71 L481.69,190.90 L483.51,193.04 L485.32,195.14 L487.14,197.18 L488.95,199.18 L490.77,201.12 L492.58,203.01 L494.40,204.84 L496.21,206.62 L498.03,208.34 L499.84,210.01 L501.66,211.62 L503.47,213.19 L505.29,214.70 L507.11,216.16 L508.92,217.57 L510.73,218.93 L512.55,220.26 L514.37,221.54 L516.18,222.78 L518.00,223.98 L519.81,225.15 L521.62,226.30 L523.44,227.42 L525.25,228.52 L527.07,229.61 L528.88,230.69 L530.70,231.76" fill="none" stroke="#1a1a1a" stroke-width="2.00" stroke-linejoin="round" stroke-dasharray="7.8,5.3"/>
<path d="M312.90,249.35 v-4.00 M312.90,23.00 v4.00 M320.16,249.35 v-2.20 M320.16,23.00 v2.20 M327.42,249.35 v-2.20 M327.42,23.00 v2.20 M334.68,249.35 v-2.20 M334.68,23.00 v2.20 M341.94,249.35 v-2.20 M341.94,23.00 v2.20 M349.20,249.35 v-4.00 M349.20,23.00 v4.00 M356.46,249.35 v-2.20 M356.46,23.00 v2.20 M363.72,249.35 v-2.20 M363.72,23.00 v2.20 M370.98,249.35 v-2.20 M370.98,23.00 v2.20 M378.24,249.35 v-2.20 M378.24,23.00 v2.20 M385.50,249.35 v-4.00 M385.50,23.00 v4.00 M392.76,249.35 v-2.20 M392.76,23.00 v2.20 M400.02,249.35 v-2.20 M400.02,23.00 v2.20 M407.28,249.35 v-2.20 M407.28,23.00 v2.20 M414.54,249.35 v-2.20 M414.54,23.00 v2.20 M421.80,249.35 v-4.00 M421.80,23.00 v4.00 M429.06,249.35 v-2.20 M429.06,23.00 v2.20 M436.32,249.35 v-2.20 M436.32,23.00 v2.20 M443.58,249.35 v-2.20 M443.58,23.00 v2.20 M450.84,249.35 v-2.20 M450.84,23.00 v2.20 M458.10,249.35 v-4.00 M458.10,23.00 v4.00 M465.36,249.35 v-2.20 M465.36,23.00 v2.20 M472.62,249.35 v-2.20 M472.62,23.00 v2.20 M479.88,249.35 v-2.20 M479.88,23.00 v2.20 M487.14,249.35 v-2.20 M487.14,23.00 v2.20 M494.40,249.35 v-4.00 M494.40,23.00 v4.00 M501.66,249.35 v-2.20 M501.66,23.00 v2.20 M508.92,249.35 v-2.20 M508.92,23.00 v2.20 M516.18,249.35 v-2.20 M516.18,23.00 v2.20 M523.44,249.35 v-2.20 M523.44,23.00 v2.20 M530.70,249.35 v-4.00 M530.70,23.00 v4.00 M308.80,245.20 h4.00 M535.30,245.20 h-4.00 M308.80,236.20 h2.20 M535.30,236.20 h-2.20 M308.80,227.20 h2.20 M535.30,227.20 h-2.20 M308.80,218.20 h2.20 M535.30,218.20 h-2.20 M308.80,209.20 h2.20 M535.30,209.20 h-2.20 M308.80,200.20 h4.00 M535.30,200.20 h-4.00 M308.80,191.20 h2.20 M535.30,191.20 h-2.20 M308.80,182.20 h2.20 M535.30,182.20 h-2.20 M308.80,173.20 h2.20 M535.30,173.20 h-2.20 M308.80,164.20 h2.20 M535.30,164.20 h-2.20 M308.80,155.20 h4.00 M535.30,155.20 h-4.00 M308.80,146.20 h2.20 M535.30,146.20 h-2.20 M308.80,137.20 h2.20 M535.30,137.20 h-2.20 M308.80,128.20 h2.20 M535.30,128.20 h-2.20 M308.80,119.20 h2.20 M535.30,119.20 h-2.20 M308.80,110.20 h4.00 M535.30,110.20 h-4.00 M308.80,101.20 h2.20 M535.30,101.20 h-2.20 M308.80,92.20 h2.20 M535.30,92.20 h-2.20 M308.80,83.20 h2.20 M535.30,83.20 h-2.20 M308.80,74.20 h2.20 M535.30,74.20 h-2.20 M308.80,65.20 h4.00 M535.30,65.20 h-4.00 M308.80,56.20 h2.20 M535.30,56.20 h-2.20 M308.80,47.20 h2.20 M535.30,47.20 h-2.20 M308.80,38.20 h2.20 M535.30,38.20 h-2.20 M308.80,29.20 h2.20 M535.30,29.20 h-2.20" stroke="#1a1a1a" stroke-width="1.15" fill="none"/>
<rect x="308.80" y="23.00" width="226.50" height="226.35" fill="none" stroke="#474747" stroke-width="1.15"/>
<text x="303.40" y="249.90" text-anchor="end" class="t">0</text>
<text x="303.40" y="204.90" text-anchor="end" class="t">0.1</text>
<text x="303.40" y="159.90" text-anchor="end" class="t">0.2</text>
<text x="303.40" y="114.90" text-anchor="end" class="t">0.3</text>
<text x="303.40" y="69.90" text-anchor="end" class="t">0.4</text>
<text x="312.90" y="266.85" text-anchor="middle" class="t">0</text>
<text x="349.20" y="266.85" text-anchor="middle" class="t">0.5</text>
<text x="385.50" y="266.85" text-anchor="middle" class="t">1.0</text>
<text x="421.80" y="266.85" text-anchor="middle" class="t">1.5</text>
<text x="458.10" y="266.85" text-anchor="middle" class="t">2.0</text>
<text x="494.40" y="266.85" text-anchor="middle" class="t">2.5</text>
<text x="530.70" y="266.85" text-anchor="middle" class="t">3.0</text>
<text x="422.05" y="288.55" text-anchor="middle" class="eps">&#x3F5;</text>
<path d="M571.80,247.00 L573.62,247.00 L575.43,247.00 L577.25,247.00 L579.06,247.00 L580.88,247.00 L582.69,247.00 L584.50,247.00 L586.32,247.00 L588.13,247.00 L589.95,247.00 L591.76,247.00 L593.58,247.00 L595.39,247.00 L597.21,247.00 L599.02,247.00 L600.84,247.00 L602.65,247.00 L604.47,247.00 L606.28,247.00 L608.10,247.00 L609.91,247.00 L611.73,247.00 L613.54,247.00 L615.36,247.00 L617.17,247.00 L618.99,247.00 L620.80,247.00 L622.62,247.00 L624.43,247.00 L626.25,247.00 L628.06,247.00 L629.88,247.00 L631.69,247.00 L633.51,247.00 L635.32,247.00 L637.14,247.00 L638.95,247.00 L640.77,247.00 L642.58,247.00 L644.40,247.00 L646.21,247.00 L648.03,247.00 L649.84,247.00 L651.66,247.00 L653.47,247.00 L655.29,247.00 L657.10,247.00 L658.92,247.00 L660.73,247.00 L662.55,247.00 L664.37,247.00 L666.18,247.00 L668.00,247.00 L669.81,247.00 L671.62,247.00 L673.44,247.00 L675.25,247.00 L677.07,247.00 L678.88,247.00 L680.70,247.00 L682.51,247.00 L684.33,247.00 L686.14,247.00 L687.96,247.00 L689.77,247.00 L691.59,247.00 L693.40,247.00 L695.22,247.00 L697.03,247.00 L698.85,247.00 L700.66,247.00 L702.48,247.00 L704.29,247.00 L706.11,247.00 L707.92,247.00 L709.74,247.00 L711.55,247.00 L713.37,247.00 L715.18,247.00 L717.00,247.00 L718.81,247.00 L720.63,247.00 L722.44,247.00 L724.26,247.00 L726.07,247.00 L727.89,247.00 L729.70,247.00 L731.52,247.00 L733.33,247.00 L735.15,247.00 L736.96,247.00 L738.78,247.00 L740.59,247.00 L742.41,247.00 L744.22,247.00 L746.04,247.00 L747.86,247.00 L749.67,247.00 L751.48,247.00 L753.30,247.00 L755.12,247.00 L756.93,247.00 L758.74,247.00 L760.56,247.00 L762.38,247.00 L764.19,247.00 L766.00,247.00 L767.82,247.00 L769.63,247.00 L771.45,247.00 L773.26,247.00 L775.08,247.00 L776.89,247.00 L778.71,247.00 L780.52,247.00 L782.34,247.00 L784.15,247.00 L785.97,247.00 L787.78,247.00 L789.60,247.00" fill="none" stroke="#ec2a33" stroke-width="2.00" stroke-linejoin="round"/>
<path d="M571.80,235.69 L573.62,235.84 L575.43,235.98 L577.25,236.13 L579.06,236.27 L580.88,236.41 L582.69,236.55 L584.50,236.69 L586.32,236.83 L588.13,236.96 L589.95,237.10 L591.76,237.23 L593.58,237.37 L595.39,237.50 L597.21,237.63 L599.02,237.76 L600.84,237.88 L602.65,238.01 L604.47,238.14 L606.28,238.26 L608.10,238.39 L609.91,238.51 L611.73,238.63 L613.54,238.75 L615.36,238.87 L617.17,238.99 L618.99,239.10 L620.80,239.22 L622.62,239.33 L624.43,239.44 L626.25,239.56 L628.06,239.67 L629.88,239.78 L631.69,239.89 L633.51,239.99 L635.32,240.10 L637.14,240.20 L638.95,240.31 L640.77,240.41 L642.58,240.51 L644.40,240.61 L646.21,240.71 L648.03,240.81 L649.84,240.91 L651.66,241.00 L653.47,241.10 L655.29,241.19 L657.10,241.28 L658.92,241.37 L660.73,241.46 L662.55,241.55 L664.37,241.64 L666.18,241.73 L668.00,241.81 L669.81,241.90 L671.62,241.98 L673.44,242.06 L675.25,242.14 L677.07,242.22 L678.88,242.30 L680.70,242.38 L682.51,242.46 L684.33,242.53 L686.14,242.61 L687.96,242.68 L689.77,242.75 L691.59,242.82 L693.40,242.89 L695.22,242.96 L697.03,243.03 L698.85,243.09 L700.66,243.16 L702.48,243.22 L704.29,243.28 L706.11,243.35 L707.92,243.41 L709.74,243.47 L711.55,243.53 L713.37,243.58 L715.18,243.64 L717.00,243.69 L718.81,243.75 L720.63,243.80 L722.44,243.85 L724.26,243.90 L726.07,243.95 L727.89,244.00 L729.70,244.05 L731.52,244.09 L733.33,244.14 L735.15,244.18 L736.96,244.23 L738.78,244.27 L740.59,244.31 L742.41,244.35 L744.22,244.39 L746.04,244.42 L747.86,244.46 L749.67,244.50 L751.48,244.53 L753.30,244.56 L755.12,244.60 L756.93,244.63 L758.74,244.66 L760.56,244.68 L762.38,244.71 L764.19,244.74 L766.00,244.76 L767.82,244.79 L769.63,244.81 L771.45,244.83 L773.26,244.85 L775.08,244.87 L776.89,244.89 L778.71,244.91 L780.52,244.93 L782.34,244.94 L784.15,244.96 L785.97,244.97 L787.78,244.98 L789.60,244.99" fill="none" stroke="#4050a0" stroke-width="2.00" stroke-linejoin="round"/>
<path d="M571.80,245.20 L573.62,245.20 L575.43,245.20 L577.25,245.20 L579.06,245.20 L580.88,245.20 L582.69,245.20 L584.50,245.20 L586.32,245.20 L588.13,245.20 L589.95,245.20 L591.76,245.20 L593.58,245.20 L595.39,245.20 L597.21,245.20 L599.02,245.20 L600.84,245.20 L602.65,245.20 L604.47,245.20 L606.28,245.20 L608.10,245.20 L609.91,245.20 L611.73,245.20 L613.54,245.20 L615.36,245.20 L617.17,245.20 L618.99,245.20 L620.80,245.20 L622.62,245.20 L624.43,245.20 L626.25,245.20 L628.06,245.20 L629.88,245.20 L631.69,245.20 L633.51,245.20 L635.32,245.20 L637.14,245.20 L638.95,245.20 L640.77,245.20 L642.58,245.20 L644.40,245.20 L646.21,245.20 L648.03,245.20 L649.84,245.20 L651.66,245.20 L653.47,245.20 L655.29,245.20 L657.10,245.20 L658.92,245.20 L660.73,245.20 L662.55,245.20 L664.37,245.20 L666.18,245.20 L668.00,245.20 L669.81,245.20 L671.62,245.20 L673.44,245.20 L675.25,245.20 L677.07,245.20 L678.88,245.20 L680.70,245.20 L682.51,245.20 L684.33,245.20 L686.14,245.20 L687.96,245.20 L689.77,245.20 L691.59,245.20 L693.40,245.20 L695.22,245.20 L697.03,245.20 L698.85,245.20 L700.66,245.20 L702.48,245.20 L704.29,245.20 L706.11,245.20 L707.92,245.20 L709.74,245.20 L711.55,245.20 L713.37,245.20 L715.18,245.20 L717.00,245.20 L718.81,245.20 L720.63,245.20 L722.44,245.20 L724.26,245.20 L726.07,245.20 L727.89,245.20 L729.70,245.20 L731.52,245.20 L733.33,245.20 L735.15,245.20 L736.96,245.20 L738.78,245.20 L740.59,245.20 L742.41,245.20 L744.22,245.20 L746.04,245.20 L747.86,245.20 L749.67,245.20 L751.48,245.20 L753.30,245.20 L755.12,245.20 L756.93,245.20 L758.74,245.20 L760.56,245.20 L762.38,245.20 L764.19,245.20 L766.00,245.20 L767.82,245.20 L769.63,245.20 L771.45,245.20 L773.26,245.20 L775.08,245.20 L776.89,245.20 L778.71,245.20 L780.52,245.20 L782.34,245.20 L784.15,245.20 L785.97,245.20 L787.78,245.20 L789.60,245.20" fill="none" stroke="#14a040" stroke-width="2.00" stroke-linejoin="round"/>
<path d="M571.80,205.97 L573.62,205.66 L575.43,205.36 L577.25,205.05 L579.06,204.74 L580.88,204.43 L582.69,204.12 L584.50,203.80 L586.32,203.48 L588.13,203.15 L589.95,202.82 L591.76,202.48 L593.58,202.13 L595.39,201.78 L597.21,201.41 L599.02,201.04 L600.84,200.66 L602.65,200.27 L604.47,199.86 L606.28,199.44 L608.10,199.02 L609.91,198.58 L611.73,198.12 L613.54,197.66 L615.36,197.17 L617.17,196.68 L618.99,196.16 L620.80,195.64 L622.62,195.09 L624.43,194.52 L626.25,193.94 L628.06,193.34 L629.88,192.71 L631.69,192.07 L633.51,191.40 L635.32,190.71 L637.14,190.00 L638.95,189.27 L640.77,188.51 L642.58,187.73 L644.40,186.92 L646.21,186.09 L648.03,185.23 L649.84,184.34 L651.66,183.44 L653.47,182.50 L655.29,181.54 L657.10,180.55 L658.92,179.54 L660.73,178.50 L662.55,177.44 L664.37,176.34 L666.18,175.22 L668.00,174.07 L669.81,172.89 L671.62,171.69 L673.44,170.45 L675.25,169.19 L677.07,167.90 L678.88,166.58 L680.70,165.24 L682.51,163.87 L684.33,162.47 L686.14,161.05 L687.96,159.61 L689.77,158.14 L691.59,156.66 L693.40,155.16 L695.22,153.65 L697.03,152.13 L698.85,150.60 L700.66,149.07 L702.48,147.54 L704.29,146.01 L706.11,144.48 L707.92,142.96 L709.74,141.45 L711.55,139.95 L713.37,138.47 L715.18,137.00 L717.00,135.55 L718.81,134.12 L720.63,132.72 L722.44,131.34 L724.26,129.98 L726.07,128.66 L727.89,127.36 L729.70,126.10 L731.52,124.87 L733.33,123.67 L735.15,122.50 L736.96,121.38 L738.78,120.28 L740.59,119.22 L742.41,118.20 L744.22,117.21 L746.04,116.26 L747.86,115.35 L749.67,114.47 L751.48,113.62 L753.30,112.81 L755.12,112.04 L756.93,111.29 L758.74,110.58 L760.56,109.90 L762.38,109.25 L764.19,108.63 L766.00,108.04 L767.82,107.48 L769.63,106.94 L771.45,106.42 L773.26,105.92 L775.08,105.45 L776.89,104.99 L778.71,104.55 L780.52,104.12 L782.34,103.70 L784.15,103.29 L785.97,102.89 L787.78,102.49 L789.60,102.09" fill="none" stroke="#f68a1a" stroke-width="2.00" stroke-linejoin="round"/>
<path d="M571.80,36.70 L573.62,37.17 L575.43,37.64 L577.25,38.12 L579.06,38.60 L580.88,39.08 L582.69,39.57 L584.50,40.06 L586.32,40.57 L588.13,41.09 L589.95,41.61 L591.76,42.15 L593.58,42.71 L595.39,43.28 L597.21,43.87 L599.02,44.47 L600.84,45.10 L602.65,45.75 L604.47,46.42 L606.28,47.12 L608.10,47.84 L609.91,48.59 L611.73,49.37 L613.54,50.18 L615.36,51.03 L617.17,51.91 L618.99,52.83 L620.80,53.79 L622.62,54.80 L624.43,55.84 L626.25,56.93 L628.06,58.06 L629.88,59.24 L631.69,60.46 L633.51,61.73 L635.32,63.05 L637.14,64.41 L638.95,65.82 L640.77,67.28 L642.58,68.78 L644.40,70.33 L646.21,71.93 L648.03,73.58 L649.84,75.28 L651.66,77.03 L653.47,78.83 L655.29,80.68 L657.10,82.58 L658.92,84.53 L660.73,86.54 L662.55,88.60 L664.37,90.71 L666.18,92.88 L668.00,95.10 L669.81,97.38 L671.62,99.71 L673.44,102.09 L675.25,104.52 L677.07,107.00 L678.88,109.53 L680.70,112.11 L682.51,114.73 L684.33,117.40 L686.14,120.10 L687.96,122.85 L689.77,125.62 L691.59,128.42 L693.40,131.25 L695.22,134.10 L697.03,136.97 L698.85,139.85 L700.66,142.73 L702.48,145.62 L704.29,148.51 L706.11,151.38 L707.92,154.25 L709.74,157.10 L711.55,159.93 L713.37,162.74 L715.18,165.52 L717.00,168.27 L718.81,170.98 L720.63,173.65 L722.44,176.27 L724.26,178.86 L726.07,181.39 L727.89,183.87 L729.70,186.29 L731.52,188.66 L733.33,190.97 L735.15,193.23 L736.96,195.42 L738.78,197.56 L740.59,199.65 L742.41,201.68 L744.22,203.65 L746.04,205.57 L747.86,207.42 L749.67,209.22 L751.48,210.96 L753.30,212.63 L755.12,214.23 L756.93,215.78 L758.74,217.26 L760.56,218.67 L762.38,220.03 L764.19,221.32 L766.00,222.55 L767.82,223.73 L769.63,224.85 L771.45,225.92 L773.26,226.94 L775.08,227.92 L776.89,228.86 L778.71,229.76 L780.52,230.63 L782.34,231.48 L784.15,232.31 L785.97,233.12 L787.78,233.93 L789.60,234.73" fill="none" stroke="#60bb4a" stroke-width="2.00" stroke-linejoin="round"/>
<path d="M571.80,26.84 L573.62,27.42 L575.43,28.00 L577.25,28.58 L579.06,29.17 L580.88,29.76 L582.69,30.35 L584.50,30.95 L586.32,31.55 L588.13,32.17 L589.95,32.79 L591.76,33.43 L593.58,34.07 L595.39,34.73 L597.21,35.41 L599.02,36.11 L600.84,36.82 L602.65,37.56 L604.47,38.32 L606.28,39.11 L608.10,39.93 L609.91,40.77 L611.73,41.65 L613.54,42.55 L615.36,43.49 L617.17,44.47 L618.99,45.48 L620.80,46.53 L622.62,47.62 L624.43,48.75 L626.25,49.93 L628.06,51.14 L629.88,52.40 L631.69,53.71 L633.51,55.06 L635.32,56.46 L637.14,57.91 L638.95,59.42 L640.77,60.97 L642.58,62.57 L644.40,64.22 L646.21,65.93 L648.03,67.69 L649.84,69.50 L651.66,71.36 L653.47,73.28 L655.29,75.25 L657.10,77.28 L658.92,79.36 L660.73,81.50 L662.55,83.69 L664.37,85.94 L666.18,88.24 L668.00,90.60 L669.81,93.01 L671.62,95.46 L673.44,97.97 L675.25,100.52 L677.07,103.11 L678.88,105.74 L680.70,108.41 L682.51,111.12 L684.33,113.86 L686.14,116.63 L687.96,119.43 L689.77,122.27 L691.59,125.12 L693.40,128.00 L695.22,130.90 L697.03,133.82 L698.85,136.75 L700.66,139.68 L702.48,142.63 L704.29,145.57 L706.11,148.50 L707.92,151.42 L709.74,154.34 L711.55,157.23 L713.37,160.11 L715.18,162.96 L717.00,165.79 L718.81,168.58 L720.63,171.34 L722.44,174.07 L724.26,176.75 L726.07,179.40 L727.89,181.99 L729.70,184.54 L731.52,187.03 L733.33,189.47 L735.15,191.85 L736.96,194.17 L738.78,196.42 L740.59,198.61 L742.41,200.72 L744.22,202.76 L746.04,204.72 L747.86,206.61 L749.67,208.43 L751.48,210.19 L753.30,211.87 L755.12,213.48 L756.93,215.03 L758.74,216.51 L760.56,217.93 L762.38,219.29 L764.19,220.58 L766.00,221.82 L767.82,223.00 L769.63,224.13 L771.45,225.21 L773.26,226.24 L775.08,227.23 L776.89,228.18 L778.71,229.09 L780.52,229.98 L782.34,230.84 L784.15,231.68 L785.97,232.50 L787.78,233.32 L789.60,234.12" fill="none" stroke="#1a1a1a" stroke-width="2.00" stroke-linejoin="round" stroke-dasharray="7.8,5.3"/>
<path d="M571.80,249.35 v-4.00 M571.80,23.00 v4.00 M579.06,249.35 v-2.20 M579.06,23.00 v2.20 M586.32,249.35 v-2.20 M586.32,23.00 v2.20 M593.58,249.35 v-2.20 M593.58,23.00 v2.20 M600.84,249.35 v-2.20 M600.84,23.00 v2.20 M608.10,249.35 v-4.00 M608.10,23.00 v4.00 M615.36,249.35 v-2.20 M615.36,23.00 v2.20 M622.62,249.35 v-2.20 M622.62,23.00 v2.20 M629.88,249.35 v-2.20 M629.88,23.00 v2.20 M637.14,249.35 v-2.20 M637.14,23.00 v2.20 M644.40,249.35 v-4.00 M644.40,23.00 v4.00 M651.66,249.35 v-2.20 M651.66,23.00 v2.20 M658.92,249.35 v-2.20 M658.92,23.00 v2.20 M666.18,249.35 v-2.20 M666.18,23.00 v2.20 M673.44,249.35 v-2.20 M673.44,23.00 v2.20 M680.70,249.35 v-4.00 M680.70,23.00 v4.00 M687.96,249.35 v-2.20 M687.96,23.00 v2.20 M695.22,249.35 v-2.20 M695.22,23.00 v2.20 M702.48,249.35 v-2.20 M702.48,23.00 v2.20 M709.74,249.35 v-2.20 M709.74,23.00 v2.20 M717.00,249.35 v-4.00 M717.00,23.00 v4.00 M724.26,249.35 v-2.20 M724.26,23.00 v2.20 M731.52,249.35 v-2.20 M731.52,23.00 v2.20 M738.78,249.35 v-2.20 M738.78,23.00 v2.20 M746.04,249.35 v-2.20 M746.04,23.00 v2.20 M753.30,249.35 v-4.00 M753.30,23.00 v4.00 M760.56,249.35 v-2.20 M760.56,23.00 v2.20 M767.82,249.35 v-2.20 M767.82,23.00 v2.20 M775.08,249.35 v-2.20 M775.08,23.00 v2.20 M782.34,249.35 v-2.20 M782.34,23.00 v2.20 M789.60,249.35 v-4.00 M789.60,23.00 v4.00 M567.80,245.80 h4.00 M794.20,245.80 h-4.00 M567.80,239.82 h2.20 M794.20,239.82 h-2.20 M567.80,233.84 h2.20 M794.20,233.84 h-2.20 M567.80,227.86 h2.20 M794.20,227.86 h-2.20 M567.80,221.88 h2.20 M794.20,221.88 h-2.20 M567.80,215.90 h4.00 M794.20,215.90 h-4.00 M567.80,209.92 h2.20 M794.20,209.92 h-2.20 M567.80,203.94 h2.20 M794.20,203.94 h-2.20 M567.80,197.96 h2.20 M794.20,197.96 h-2.20 M567.80,191.98 h2.20 M794.20,191.98 h-2.20 M567.80,186.00 h4.00 M794.20,186.00 h-4.00 M567.80,180.02 h2.20 M794.20,180.02 h-2.20 M567.80,174.04 h2.20 M794.20,174.04 h-2.20 M567.80,168.06 h2.20 M794.20,168.06 h-2.20 M567.80,162.08 h2.20 M794.20,162.08 h-2.20 M567.80,156.10 h4.00 M794.20,156.10 h-4.00 M567.80,150.12 h2.20 M794.20,150.12 h-2.20 M567.80,144.14 h2.20 M794.20,144.14 h-2.20 M567.80,138.16 h2.20 M794.20,138.16 h-2.20 M567.80,132.18 h2.20 M794.20,132.18 h-2.20 M567.80,126.20 h4.00 M794.20,126.20 h-4.00 M567.80,120.22 h2.20 M794.20,120.22 h-2.20 M567.80,114.24 h2.20 M794.20,114.24 h-2.20 M567.80,108.26 h2.20 M794.20,108.26 h-2.20 M567.80,102.28 h2.20 M794.20,102.28 h-2.20 M567.80,96.30 h4.00 M794.20,96.30 h-4.00 M567.80,90.32 h2.20 M794.20,90.32 h-2.20 M567.80,84.34 h2.20 M794.20,84.34 h-2.20 M567.80,78.36 h2.20 M794.20,78.36 h-2.20 M567.80,72.38 h2.20 M794.20,72.38 h-2.20 M567.80,66.40 h4.00 M794.20,66.40 h-4.00 M567.80,60.42 h2.20 M794.20,60.42 h-2.20 M567.80,54.44 h2.20 M794.20,54.44 h-2.20 M567.80,48.46 h2.20 M794.20,48.46 h-2.20 M567.80,42.48 h2.20 M794.20,42.48 h-2.20 M567.80,36.50 h4.00 M794.20,36.50 h-4.00 M567.80,30.52 h2.20 M794.20,30.52 h-2.20 M567.80,24.54 h2.20 M794.20,24.54 h-2.20" stroke="#1a1a1a" stroke-width="1.15" fill="none"/>
<rect x="567.80" y="23.00" width="226.40" height="226.35" fill="none" stroke="#474747" stroke-width="1.15"/>
<text x="562.40" y="250.50" text-anchor="end" class="t">0</text>
<text x="562.40" y="220.60" text-anchor="end" class="t">0.1</text>
<text x="562.40" y="190.70" text-anchor="end" class="t">0.2</text>
<text x="562.40" y="160.80" text-anchor="end" class="t">0.3</text>
<text x="562.40" y="130.90" text-anchor="end" class="t">0.4</text>
<text x="562.40" y="101.00" text-anchor="end" class="t">0.5</text>
<text x="562.40" y="71.10" text-anchor="end" class="t">0.6</text>
<text x="562.40" y="41.20" text-anchor="end" class="t">0.7</text>
<text x="571.80" y="266.85" text-anchor="middle" class="t">0</text>
<text x="608.10" y="266.85" text-anchor="middle" class="t">0.5</text>
<text x="644.40" y="266.85" text-anchor="middle" class="t">1.0</text>
<text x="680.70" y="266.85" text-anchor="middle" class="t">1.5</text>
<text x="717.00" y="266.85" text-anchor="middle" class="t">2.0</text>
<text x="753.30" y="266.85" text-anchor="middle" class="t">2.5</text>
<text x="789.60" y="266.85" text-anchor="middle" class="t">3.0</text>
<text x="681.00" y="288.55" text-anchor="middle" class="eps">&#x3F5;</text>
<path d="M52.50,531.11 L54.31,531.12 L56.13,531.14 L57.95,531.16 L59.76,531.17 L61.58,531.19 L63.39,531.20 L65.20,531.22 L67.02,531.24 L68.84,531.25 L70.65,531.27 L72.47,531.28 L74.28,531.30 L76.09,531.32 L77.91,531.33 L79.72,531.35 L81.54,531.36 L83.36,531.38 L85.17,531.40 L86.98,531.41 L88.80,531.43 L90.62,531.44 L92.43,531.46 L94.25,531.48 L96.06,531.49 L97.88,531.51 L99.69,531.53 L101.50,531.54 L103.32,531.56 L105.14,531.58 L106.95,531.59 L108.77,531.61 L110.58,531.63 L112.40,531.64 L114.21,531.66 L116.02,531.68 L117.84,531.69 L119.66,531.71 L121.47,531.73 L123.28,531.74 L125.10,531.76 L126.92,531.78 L128.73,531.79 L130.54,531.81 L132.36,531.83 L134.18,531.84 L135.99,531.86 L137.81,531.88 L139.62,531.90 L141.44,531.91 L143.25,531.93 L145.06,531.95 L146.88,531.96 L148.69,531.98 L150.51,532.00 L152.32,532.02 L154.14,532.03 L155.95,532.05 L157.77,532.07 L159.58,532.08 L161.40,532.10 L163.22,532.12 L165.03,532.14 L166.84,532.15 L168.66,532.17 L170.47,532.19 L172.29,532.21 L174.10,532.22 L175.92,532.24 L177.74,532.26 L179.55,532.28 L181.37,532.29 L183.18,532.31 L185.00,532.33 L186.81,532.35 L188.62,532.37 L190.44,532.38 L192.25,532.40 L194.07,532.42 L195.88,532.44 L197.70,532.45 L199.51,532.47 L201.33,532.49 L203.15,532.51 L204.96,532.53 L206.77,532.54 L208.59,532.56 L210.41,532.58 L212.22,532.60 L214.03,532.62 L215.85,532.63 L217.66,532.65 L219.48,532.67 L221.29,532.69 L223.11,532.71 L224.92,532.73 L226.74,532.74 L228.56,532.76 L230.37,532.78 L232.19,532.80 L234.00,532.82 L235.81,532.84 L237.63,532.85 L239.44,532.87 L241.26,532.89 L243.07,532.91 L244.89,532.93 L246.71,532.95 L248.52,532.96 L250.33,532.98 L252.15,533.00 L253.97,533.02 L255.78,533.04 L257.60,533.06 L259.41,533.08 L261.23,533.10 L263.04,533.11 L264.86,533.13 L266.67,533.15 L268.49,533.17 L270.30,533.19" fill="none" stroke="#4050a0" stroke-width="2.00" stroke-linejoin="round"/>
<path d="M52.50,525.11 L54.31,525.17 L56.13,525.24 L57.95,525.31 L59.76,525.37 L61.58,525.44 L63.39,525.51 L65.20,525.57 L67.02,525.64 L68.84,525.71 L70.65,525.77 L72.47,525.84 L74.28,525.91 L76.09,525.98 L77.91,526.04 L79.72,526.11 L81.54,526.18 L83.36,526.24 L85.17,526.31 L86.98,526.38 L88.80,526.45 L90.62,526.51 L92.43,526.58 L94.25,526.65 L96.06,526.72 L97.88,526.78 L99.69,526.85 L101.50,526.92 L103.32,526.99 L105.14,527.06 L106.95,527.12 L108.77,527.19 L110.58,527.26 L112.40,527.33 L114.21,527.40 L116.02,527.46 L117.84,527.53 L119.66,527.60 L121.47,527.67 L123.28,527.74 L125.10,527.80 L126.92,527.87 L128.73,527.94 L130.54,528.01 L132.36,528.08 L134.18,528.15 L135.99,528.22 L137.81,528.30 L139.62,528.37 L141.44,528.44 L143.25,528.52 L145.06,528.59 L146.88,528.67 L148.69,528.74 L150.51,528.82 L152.32,528.89 L154.14,528.97 L155.95,529.04 L157.77,529.12 L159.58,529.19 L161.40,529.27 L163.22,529.34 L165.03,529.41 L166.84,529.49 L168.66,529.56 L170.47,529.63 L172.29,529.70 L174.10,529.77 L175.92,529.84 L177.74,529.90 L179.55,529.97 L181.37,530.04 L183.18,530.10 L185.00,530.16 L186.81,530.22 L188.62,530.28 L190.44,530.34 L192.25,530.40 L194.07,530.45 L195.88,530.50 L197.70,530.56 L199.51,530.61 L201.33,530.66 L203.15,530.71 L204.96,530.76 L206.77,530.81 L208.59,530.86 L210.41,530.91 L212.22,530.96 L214.03,531.01 L215.85,531.06 L217.66,531.11 L219.48,531.15 L221.29,531.20 L223.11,531.25 L224.92,531.29 L226.74,531.34 L228.56,531.38 L230.37,531.43 L232.19,531.47 L234.00,531.51 L235.81,531.56 L237.63,531.60 L239.44,531.64 L241.26,531.68 L243.07,531.72 L244.89,531.76 L246.71,531.79 L248.52,531.83 L250.33,531.87 L252.15,531.91 L253.97,531.94 L255.78,531.97 L257.60,532.01 L259.41,532.04 L261.23,532.07 L263.04,532.11 L264.86,532.14 L266.67,532.17 L268.49,532.19 L270.30,532.22" fill="none" stroke="#ec2a33" stroke-width="2.00" stroke-linejoin="round"/>
<path d="M52.50,532.80 L54.31,532.80 L56.13,532.80 L57.95,532.80 L59.76,532.80 L61.58,532.80 L63.39,532.80 L65.20,532.80 L67.02,532.80 L68.84,532.80 L70.65,532.80 L72.47,532.80 L74.28,532.80 L76.09,532.80 L77.91,532.80 L79.72,532.80 L81.54,532.80 L83.36,532.80 L85.17,532.80 L86.98,532.80 L88.80,532.80 L90.62,532.80 L92.43,532.80 L94.25,532.80 L96.06,532.80 L97.88,532.80 L99.69,532.80 L101.50,532.80 L103.32,532.80 L105.14,532.80 L106.95,532.80 L108.77,532.80 L110.58,532.80 L112.40,532.80 L114.21,532.80 L116.02,532.80 L117.84,532.80 L119.66,532.80 L121.47,532.80 L123.28,532.80 L125.10,532.80 L126.92,532.80 L128.73,532.80 L130.54,532.80 L132.36,532.80 L134.18,532.80 L135.99,532.80 L137.81,532.80 L139.62,532.80 L141.44,532.80 L143.25,532.80 L145.06,532.80 L146.88,532.80 L148.69,532.80 L150.51,532.80 L152.32,532.80 L154.14,532.80 L155.95,532.80 L157.77,532.80 L159.58,532.80 L161.40,532.80 L163.22,532.80 L165.03,532.80 L166.84,532.80 L168.66,532.81 L170.47,532.81 L172.29,532.81 L174.10,532.81 L175.92,532.82 L177.74,532.82 L179.55,532.82 L181.37,532.83 L183.18,532.83 L185.00,532.83 L186.81,532.84 L188.62,532.84 L190.44,532.85 L192.25,532.86 L194.07,532.86 L195.88,532.87 L197.70,532.87 L199.51,532.88 L201.33,532.89 L203.15,532.90 L204.96,532.90 L206.77,532.91 L208.59,532.92 L210.41,532.93 L212.22,532.94 L214.03,532.95 L215.85,532.95 L217.66,532.96 L219.48,532.97 L221.29,532.98 L223.11,532.99 L224.92,533.00 L226.74,533.01 L228.56,533.02 L230.37,533.03 L232.19,533.04 L234.00,533.05 L235.81,533.06 L237.63,533.08 L239.44,533.09 L241.26,533.10 L243.07,533.11 L244.89,533.12 L246.71,533.13 L248.52,533.14 L250.33,533.16 L252.15,533.17 L253.97,533.18 L255.78,533.19 L257.60,533.20 L259.41,533.21 L261.23,533.23 L263.04,533.24 L264.86,533.25 L266.67,533.26 L268.49,533.27 L270.30,533.29" fill="none" stroke="#14a040" stroke-width="2.00" stroke-linejoin="round"/>
<path d="M52.50,341.10 L54.31,345.25 L56.13,349.38 L57.95,353.49 L59.76,357.57 L61.58,361.62 L63.39,365.64 L65.20,369.61 L67.02,373.55 L68.84,377.46 L70.65,381.32 L72.47,385.15 L74.28,388.93 L76.09,392.66 L77.91,396.33 L79.72,399.93 L81.54,403.44 L83.36,406.87 L85.17,410.22 L86.98,413.51 L88.80,416.74 L90.62,419.93 L92.43,423.07 L94.25,426.19 L96.06,429.28 L97.88,432.34 L99.69,435.36 L101.50,438.34 L103.32,441.27 L105.14,444.14 L106.95,446.94 L108.77,449.67 L110.58,452.31 L112.40,454.84 L114.21,457.28 L116.02,459.60 L117.84,461.82 L119.66,463.94 L121.47,465.97 L123.28,467.91 L125.10,469.78 L126.92,471.58 L128.73,473.34 L130.54,475.04 L132.36,476.69 L134.18,478.30 L135.99,479.86 L137.81,481.38 L139.62,482.85 L141.44,484.29 L143.25,485.68 L145.06,487.03 L146.88,488.35 L148.69,489.63 L150.51,490.86 L152.32,492.07 L154.14,493.23 L155.95,494.36 L157.77,495.45 L159.58,496.51 L161.40,497.53 L163.22,498.52 L165.03,499.48 L166.84,500.40 L168.66,501.29 L170.47,502.15 L172.29,502.98 L174.10,503.79 L175.92,504.56 L177.74,505.31 L179.55,506.03 L181.37,506.73 L183.18,507.41 L185.00,508.06 L186.81,508.70 L188.62,509.32 L190.44,509.92 L192.25,510.50 L194.07,511.07 L195.88,511.63 L197.70,512.18 L199.51,512.71 L201.33,513.24 L203.15,513.75 L204.96,514.25 L206.77,514.75 L208.59,515.23 L210.41,515.71 L212.22,516.17 L214.03,516.63 L215.85,517.08 L217.66,517.52 L219.48,517.95 L221.29,518.38 L223.11,518.79 L224.92,519.20 L226.74,519.60 L228.56,519.99 L230.37,520.37 L232.19,520.74 L234.00,521.09 L235.81,521.44 L237.63,521.78 L239.44,522.11 L241.26,522.43 L243.07,522.74 L244.89,523.04 L246.71,523.33 L248.52,523.63 L250.33,523.92 L252.15,524.21 L253.97,524.50 L255.78,524.79 L257.60,525.09 L259.41,525.39 L261.23,525.69 L263.04,526.00 L264.86,526.32 L266.67,526.64 L268.49,526.96 L270.30,527.28" fill="none" stroke="#ab1e29" stroke-width="2.00" stroke-linejoin="round"/>
<path d="M52.50,430.22 L54.31,428.44 L56.13,426.67 L57.95,424.90 L59.76,423.13 L61.58,421.37 L63.39,419.61 L65.20,417.85 L67.02,416.10 L68.84,414.36 L70.65,412.63 L72.47,410.90 L74.28,409.19 L76.09,407.48 L77.91,405.79 L79.72,404.12 L81.54,402.46 L83.36,400.81 L85.17,399.19 L86.98,397.59 L88.80,396.00 L90.62,394.44 L92.43,392.91 L94.25,391.41 L96.06,389.93 L97.88,388.48 L99.69,387.06 L101.50,385.67 L103.32,384.32 L105.14,382.99 L106.95,381.70 L108.77,380.44 L110.58,379.21 L112.40,378.02 L114.21,376.86 L116.02,375.72 L117.84,374.62 L119.66,373.55 L121.47,372.51 L123.28,371.50 L125.10,370.52 L126.92,369.56 L128.73,368.63 L130.54,367.72 L132.36,366.83 L134.18,365.97 L135.99,365.12 L137.81,364.30 L139.62,363.49 L141.44,362.70 L143.25,361.92 L145.06,361.16 L146.88,360.41 L148.69,359.67 L150.51,358.94 L152.32,358.23 L154.14,357.52 L155.95,356.82 L157.77,356.13 L159.58,355.45 L161.40,354.77 L163.22,354.10 L165.03,353.43 L166.84,352.77 L168.66,352.12 L170.47,351.47 L172.29,350.82 L174.10,350.18 L175.92,349.54 L177.74,348.90 L179.55,348.27 L181.37,347.63 L183.18,347.01 L185.00,346.38 L186.81,345.75 L188.62,345.13 L190.44,344.50 L192.25,343.88 L194.07,343.26 L195.88,342.64 L197.70,342.02 L199.51,341.40 L201.33,340.78 L203.15,340.16 L204.96,339.54 L206.77,338.92 L208.59,338.30 L210.41,337.67 L212.22,337.05 L214.03,336.43 L215.85,335.80 L217.66,335.18 L219.48,334.55 L221.29,333.92 L223.11,333.30 L224.92,332.67 L226.74,332.03 L228.56,331.40 L230.37,330.77 L232.19,330.13 L234.00,329.50 L235.81,328.86 L237.63,328.22 L239.44,327.58 L241.26,326.94 L243.07,326.29 L244.89,325.65 L246.71,325.00 L248.52,324.36 L250.33,323.71 L252.15,323.06 L253.97,322.41 L255.78,321.76 L257.60,321.11 L259.41,320.46 L261.23,319.80 L263.04,319.15 L264.86,318.49 L266.67,317.84 L268.49,317.18 L270.30,316.53" fill="none" stroke="#f68a1a" stroke-width="2.00" stroke-linejoin="round"/>
<path d="M52.50,469.67 L54.31,469.00 L56.13,468.33 L57.95,467.66 L59.76,467.00 L61.58,466.34 L63.39,465.69 L65.20,465.04 L67.02,464.41 L68.84,463.78 L70.65,463.17 L72.47,462.57 L74.28,461.98 L76.09,461.41 L77.91,460.85 L79.72,460.31 L81.54,459.79 L83.36,459.29 L85.17,458.80 L86.98,458.34 L88.80,457.90 L90.62,457.48 L92.43,457.09 L94.25,456.72 L96.06,456.37 L97.88,456.05 L99.69,455.75 L101.50,455.47 L103.32,455.22 L105.14,454.99 L106.95,454.79 L108.77,454.61 L110.58,454.46 L112.40,454.33 L114.21,454.22 L116.02,454.14 L117.84,454.08 L119.66,454.04 L121.47,454.03 L123.28,454.04 L125.10,454.07 L126.92,454.12 L128.73,454.19 L130.54,454.28 L132.36,454.40 L134.18,454.53 L135.99,454.68 L137.81,454.85 L139.62,455.04 L141.44,455.25 L143.25,455.47 L145.06,455.71 L146.88,455.97 L148.69,456.24 L150.51,456.53 L152.32,456.83 L154.14,457.15 L155.95,457.48 L157.77,457.82 L159.58,458.17 L161.40,458.54 L163.22,458.92 L165.03,459.31 L166.84,459.70 L168.66,460.11 L170.47,460.53 L172.29,460.95 L174.10,461.39 L175.92,461.83 L177.74,462.29 L179.55,462.75 L181.37,463.22 L183.18,463.70 L185.00,464.19 L186.81,464.69 L188.62,465.19 L190.44,465.70 L192.25,466.23 L194.07,466.76 L195.88,467.30 L197.70,467.86 L199.51,468.43 L201.33,469.00 L203.15,469.59 L204.96,470.20 L206.77,470.81 L208.59,471.44 L210.41,472.08 L212.22,472.74 L214.03,473.40 L215.85,474.08 L217.66,474.78 L219.48,475.48 L221.29,476.20 L223.11,476.93 L224.92,477.68 L226.74,478.43 L228.56,479.20 L230.37,479.97 L232.19,480.76 L234.00,481.56 L235.81,482.36 L237.63,483.17 L239.44,483.99 L241.26,484.82 L243.07,485.66 L244.89,486.50 L246.71,487.34 L248.52,488.19 L250.33,489.05 L252.15,489.91 L253.97,490.77 L255.78,491.63 L257.60,492.50 L259.41,493.38 L261.23,494.25 L263.04,495.13 L264.86,496.00 L266.67,496.88 L268.49,497.76 L270.30,498.64" fill="none" stroke="#60bb4a" stroke-width="2.00" stroke-linejoin="round"/>
<path d="M52.50,461.74 L54.31,461.04 L56.13,460.34 L57.95,459.64 L59.76,458.95 L61.58,458.27 L63.39,457.60 L65.20,456.94 L67.02,456.29 L68.84,455.66 L70.65,455.04 L72.47,454.44 L74.28,453.86 L76.09,453.30 L77.91,452.76 L79.72,452.24 L81.54,451.74 L83.36,451.26 L85.17,450.80 L86.98,450.37 L88.80,449.96 L90.62,449.57 L92.43,449.21 L94.25,448.87 L96.06,448.55 L97.88,448.26 L99.69,447.99 L101.50,447.75 L103.32,447.53 L105.14,447.33 L106.95,447.15 L108.77,446.99 L110.58,446.85 L112.40,446.74 L114.21,446.65 L116.02,446.57 L117.84,446.52 L119.66,446.48 L121.47,446.47 L123.28,446.47 L125.10,446.50 L126.92,446.54 L128.73,446.60 L130.54,446.68 L132.36,446.78 L134.18,446.90 L135.99,447.04 L137.81,447.19 L139.62,447.37 L141.44,447.56 L143.25,447.78 L145.06,448.01 L146.88,448.26 L148.69,448.53 L150.51,448.82 L152.32,449.13 L154.14,449.46 L155.95,449.81 L157.77,450.17 L159.58,450.55 L161.40,450.94 L163.22,451.35 L165.03,451.78 L166.84,452.22 L168.66,452.68 L170.47,453.15 L172.29,453.63 L174.10,454.13 L175.92,454.64 L177.74,455.16 L179.55,455.69 L181.37,456.24 L183.18,456.80 L185.00,457.37 L186.81,457.95 L188.62,458.54 L190.44,459.15 L192.25,459.76 L194.07,460.39 L195.88,461.02 L197.70,461.67 L199.51,462.33 L201.33,463.00 L203.15,463.68 L204.96,464.37 L206.77,465.08 L208.59,465.79 L210.41,466.52 L212.22,467.25 L214.03,468.00 L215.85,468.76 L217.66,469.53 L219.48,470.31 L221.29,471.10 L223.11,471.90 L224.92,472.71 L226.74,473.53 L228.56,474.37 L230.37,475.21 L232.19,476.07 L234.00,476.93 L235.81,477.81 L237.63,478.70 L239.44,479.59 L241.26,480.49 L243.07,481.41 L244.89,482.32 L246.71,483.25 L248.52,484.17 L250.33,485.11 L252.15,486.04 L253.97,486.98 L255.78,487.92 L257.60,488.86 L259.41,489.80 L261.23,490.74 L263.04,491.69 L264.86,492.63 L266.67,493.57 L268.49,494.51 L270.30,495.45" fill="none" stroke="#1a1a1a" stroke-width="2.00" stroke-linejoin="round" stroke-dasharray="7.8,5.3"/>
<path d="M52.50,539.05 v-4.00 M52.50,312.90 v4.00 M59.76,539.05 v-2.20 M59.76,312.90 v2.20 M67.02,539.05 v-2.20 M67.02,312.90 v2.20 M74.28,539.05 v-2.20 M74.28,312.90 v2.20 M81.54,539.05 v-2.20 M81.54,312.90 v2.20 M88.80,539.05 v-4.00 M88.80,312.90 v4.00 M96.06,539.05 v-2.20 M96.06,312.90 v2.20 M103.32,539.05 v-2.20 M103.32,312.90 v2.20 M110.58,539.05 v-2.20 M110.58,312.90 v2.20 M117.84,539.05 v-2.20 M117.84,312.90 v2.20 M125.10,539.05 v-4.00 M125.10,312.90 v4.00 M132.36,539.05 v-2.20 M132.36,312.90 v2.20 M139.62,539.05 v-2.20 M139.62,312.90 v2.20 M146.88,539.05 v-2.20 M146.88,312.90 v2.20 M154.14,539.05 v-2.20 M154.14,312.90 v2.20 M161.40,539.05 v-4.00 M161.40,312.90 v4.00 M168.66,539.05 v-2.20 M168.66,312.90 v2.20 M175.92,539.05 v-2.20 M175.92,312.90 v2.20 M183.18,539.05 v-2.20 M183.18,312.90 v2.20 M190.44,539.05 v-2.20 M190.44,312.90 v2.20 M197.70,539.05 v-4.00 M197.70,312.90 v4.00 M204.96,539.05 v-2.20 M204.96,312.90 v2.20 M212.22,539.05 v-2.20 M212.22,312.90 v2.20 M219.48,539.05 v-2.20 M219.48,312.90 v2.20 M226.74,539.05 v-2.20 M226.74,312.90 v2.20 M234.00,539.05 v-4.00 M234.00,312.90 v4.00 M241.26,539.05 v-2.20 M241.26,312.90 v2.20 M248.52,539.05 v-2.20 M248.52,312.90 v2.20 M255.78,539.05 v-2.20 M255.78,312.90 v2.20 M263.04,539.05 v-2.20 M263.04,312.90 v2.20 M270.30,539.05 v-4.00 M270.30,312.90 v4.00 M48.10,534.40 h4.00 M274.40,534.40 h-4.00 M48.10,524.72 h2.20 M274.40,524.72 h-2.20 M48.10,515.04 h2.20 M274.40,515.04 h-2.20 M48.10,505.36 h2.20 M274.40,505.36 h-2.20 M48.10,495.68 h2.20 M274.40,495.68 h-2.20 M48.10,486.00 h4.00 M274.40,486.00 h-4.00 M48.10,476.32 h2.20 M274.40,476.32 h-2.20 M48.10,466.64 h2.20 M274.40,466.64 h-2.20 M48.10,456.96 h2.20 M274.40,456.96 h-2.20 M48.10,447.28 h2.20 M274.40,447.28 h-2.20 M48.10,437.60 h4.00 M274.40,437.60 h-4.00 M48.10,427.92 h2.20 M274.40,427.92 h-2.20 M48.10,418.24 h2.20 M274.40,418.24 h-2.20 M48.10,408.56 h2.20 M274.40,408.56 h-2.20 M48.10,398.88 h2.20 M274.40,398.88 h-2.20 M48.10,389.20 h4.00 M274.40,389.20 h-4.00 M48.10,379.52 h2.20 M274.40,379.52 h-2.20 M48.10,369.84 h2.20 M274.40,369.84 h-2.20 M48.10,360.16 h2.20 M274.40,360.16 h-2.20 M48.10,350.48 h2.20 M274.40,350.48 h-2.20 M48.10,340.80 h4.00 M274.40,340.80 h-4.00 M48.10,331.12 h2.20 M274.40,331.12 h-2.20 M48.10,321.44 h2.20 M274.40,321.44 h-2.20" stroke="#1a1a1a" stroke-width="1.15" fill="none"/>
<rect x="48.10" y="312.90" width="226.30" height="226.15" fill="none" stroke="#474747" stroke-width="1.15"/>
<text x="42.70" y="539.10" text-anchor="end" class="t">0</text>
<text x="42.70" y="490.70" text-anchor="end" class="t">0.1</text>
<text x="42.70" y="442.30" text-anchor="end" class="t">0.2</text>
<text x="42.70" y="393.90" text-anchor="end" class="t">0.3</text>
<text x="42.70" y="345.50" text-anchor="end" class="t">0.4</text>
<text x="52.50" y="556.55" text-anchor="middle" class="t">0</text>
<text x="88.80" y="556.55" text-anchor="middle" class="t">0.5</text>
<text x="125.10" y="556.55" text-anchor="middle" class="t">1.0</text>
<text x="161.40" y="556.55" text-anchor="middle" class="t">1.5</text>
<text x="197.70" y="556.55" text-anchor="middle" class="t">2.0</text>
<text x="234.00" y="556.55" text-anchor="middle" class="t">2.5</text>
<text x="270.30" y="556.55" text-anchor="middle" class="t">3.0</text>
<text x="161.25" y="578.25" text-anchor="middle" class="eps">&#x3F5;</text>
<path d="M312.90,462.65 L314.71,464.01 L316.53,465.36 L318.34,466.72 L320.16,468.08 L321.97,469.44 L323.79,470.80 L325.60,472.16 L327.42,473.52 L329.23,474.87 L331.05,476.21 L332.86,477.54 L334.68,478.87 L336.50,480.18 L338.31,481.47 L340.12,482.75 L341.94,484.02 L343.75,485.26 L345.57,486.49 L347.38,487.70 L349.20,488.89 L351.01,490.05 L352.83,491.20 L354.64,492.33 L356.46,493.43 L358.27,494.51 L360.09,495.57 L361.90,496.60 L363.72,497.61 L365.53,498.59 L367.35,499.55 L369.16,500.49 L370.98,501.40 L372.79,502.29 L374.61,503.16 L376.42,504.00 L378.24,504.81 L380.05,505.60 L381.87,506.37 L383.68,507.11 L385.50,507.83 L387.31,508.53 L389.13,509.20 L390.94,509.85 L392.76,510.49 L394.57,511.10 L396.39,511.69 L398.20,512.26 L400.02,512.81 L401.83,513.35 L403.65,513.86 L405.46,514.36 L407.28,514.84 L409.09,515.30 L410.91,515.75 L412.72,516.18 L414.54,516.59 L416.35,516.99 L418.17,517.38 L419.98,517.75 L421.80,518.10 L423.62,518.44 L425.43,518.77 L427.25,519.09 L429.06,519.40 L430.88,519.69 L432.69,519.97 L434.50,520.24 L436.32,520.50 L438.13,520.75 L439.95,520.99 L441.76,521.23 L443.58,521.45 L445.39,521.67 L447.21,521.88 L449.02,522.09 L450.84,522.29 L452.65,522.49 L454.47,522.68 L456.28,522.86 L458.10,523.05 L459.91,523.23 L461.73,523.40 L463.54,523.58 L465.36,523.75 L467.17,523.92 L468.99,524.08 L470.80,524.24 L472.62,524.40 L474.43,524.56 L476.25,524.71 L478.06,524.87 L479.88,525.02 L481.69,525.16 L483.51,525.31 L485.32,525.45 L487.14,525.60 L488.95,525.73 L490.77,525.87 L492.58,526.01 L494.40,526.14 L496.21,526.27 L498.03,526.40 L499.84,526.53 L501.66,526.66 L503.47,526.78 L505.29,526.90 L507.11,527.02 L508.92,527.14 L510.73,527.26 L512.55,527.37 L514.37,527.49 L516.18,527.60 L518.00,527.72 L519.81,527.83 L521.62,527.94 L523.44,528.05 L525.25,528.16 L527.07,528.27 L528.88,528.38 L530.70,528.49" fill="none" stroke="#ab1e29" stroke-width="2.00" stroke-linejoin="round"/>
<path d="M312.90,501.44 L314.71,501.99 L316.53,502.54 L318.34,503.08 L320.16,503.62 L321.97,504.16 L323.79,504.70 L325.60,505.23 L327.42,505.76 L329.23,506.29 L331.05,506.81 L332.86,507.33 L334.68,507.84 L336.50,508.34 L338.31,508.84 L340.12,509.33 L341.94,509.81 L343.75,510.29 L345.57,510.76 L347.38,511.22 L349.20,511.67 L351.01,512.11 L352.83,512.55 L354.64,512.97 L356.46,513.39 L358.27,513.79 L360.09,514.19 L361.90,514.58 L363.72,514.96 L365.53,515.32 L367.35,515.68 L369.16,516.03 L370.98,516.37 L372.79,516.70 L374.61,517.02 L376.42,517.33 L378.24,517.63 L380.05,517.93 L381.87,518.21 L383.68,518.50 L385.50,518.77 L387.31,519.04 L389.13,519.31 L390.94,519.57 L392.76,519.82 L394.57,520.07 L396.39,520.31 L398.20,520.55 L400.02,520.78 L401.83,521.01 L403.65,521.23 L405.46,521.44 L407.28,521.66 L409.09,521.86 L410.91,522.07 L412.72,522.27 L414.54,522.46 L416.35,522.65 L418.17,522.84 L419.98,523.02 L421.80,523.20 L423.62,523.37 L425.43,523.54 L427.25,523.70 L429.06,523.86 L430.88,524.01 L432.69,524.16 L434.50,524.31 L436.32,524.45 L438.13,524.59 L439.95,524.72 L441.76,524.85 L443.58,524.98 L445.39,525.11 L447.21,525.23 L449.02,525.36 L450.84,525.48 L452.65,525.60 L454.47,525.72 L456.28,525.85 L458.10,525.97 L459.91,526.09 L461.73,526.21 L463.54,526.34 L465.36,526.46 L467.17,526.58 L468.99,526.70 L470.80,526.81 L472.62,526.93 L474.43,527.05 L476.25,527.16 L478.06,527.27 L479.88,527.39 L481.69,527.50 L483.51,527.61 L485.32,527.72 L487.14,527.83 L488.95,527.93 L490.77,528.04 L492.58,528.14 L494.40,528.25 L496.21,528.35 L498.03,528.45 L499.84,528.55 L501.66,528.64 L503.47,528.74 L505.29,528.83 L507.11,528.92 L508.92,529.01 L510.73,529.10 L512.55,529.19 L514.37,529.27 L516.18,529.36 L518.00,529.44 L519.81,529.53 L521.62,529.61 L523.44,529.69 L525.25,529.77 L527.07,529.85 L528.88,529.93 L530.70,530.01" fill="none" stroke="#4050a0" stroke-width="2.00" stroke-linejoin="round"/>
<path d="M312.90,529.30 L314.71,529.37 L316.53,529.43 L318.34,529.50 L320.16,529.56 L321.97,529.62 L323.79,529.68 L325.60,529.75 L327.42,529.81 L329.23,529.87 L331.05,529.93 L332.86,529.99 L334.68,530.04 L336.50,530.10 L338.31,530.16 L340.12,530.21 L341.94,530.27 L343.75,530.32 L345.57,530.37 L347.38,530.42 L349.20,530.47 L351.01,530.52 L352.83,530.57 L354.64,530.62 L356.46,530.66 L358.27,530.71 L360.09,530.75 L361.90,530.79 L363.72,530.83 L365.53,530.87 L367.35,530.91 L369.16,530.95 L370.98,530.98 L372.79,531.01 L374.61,531.04 L376.42,531.07 L378.24,531.10 L380.05,531.13 L381.87,531.15 L383.68,531.17 L385.50,531.19 L387.31,531.21 L389.13,531.23 L390.94,531.25 L392.76,531.27 L394.57,531.28 L396.39,531.30 L398.20,531.32 L400.02,531.33 L401.83,531.35 L403.65,531.36 L405.46,531.37 L407.28,531.39 L409.09,531.40 L410.91,531.41 L412.72,531.42 L414.54,531.44 L416.35,531.45 L418.17,531.46 L419.98,531.47 L421.80,531.48 L423.62,531.49 L425.43,531.50 L427.25,531.51 L429.06,531.52 L430.88,531.53 L432.69,531.54 L434.50,531.55 L436.32,531.56 L438.13,531.57 L439.95,531.58 L441.76,531.59 L443.58,531.60 L445.39,531.61 L447.21,531.62 L449.02,531.63 L450.84,531.64 L452.65,531.65 L454.47,531.66 L456.28,531.68 L458.10,531.69 L459.91,531.70 L461.73,531.71 L463.54,531.72 L465.36,531.73 L467.17,531.75 L468.99,531.76 L470.80,531.77 L472.62,531.78 L474.43,531.79 L476.25,531.80 L478.06,531.82 L479.88,531.83 L481.69,531.84 L483.51,531.85 L485.32,531.86 L487.14,531.87 L488.95,531.88 L490.77,531.90 L492.58,531.91 L494.40,531.92 L496.21,531.93 L498.03,531.94 L499.84,531.95 L501.66,531.96 L503.47,531.97 L505.29,531.99 L507.11,532.00 L508.92,532.01 L510.73,532.02 L512.55,532.03 L514.37,532.04 L516.18,532.05 L518.00,532.06 L519.81,532.07 L521.62,532.09 L523.44,532.10 L525.25,532.11 L527.07,532.12 L528.88,532.13 L530.70,532.14" fill="none" stroke="#ec2a33" stroke-width="2.00" stroke-linejoin="round"/>
<path d="M312.90,533.37 L314.71,533.37 L316.53,533.37 L318.34,533.37 L320.16,533.37 L321.97,533.36 L323.79,533.36 L325.60,533.36 L327.42,533.36 L329.23,533.36 L331.05,533.36 L332.86,533.35 L334.68,533.35 L336.50,533.35 L338.31,533.35 L340.12,533.35 L341.94,533.35 L343.75,533.34 L345.57,533.34 L347.38,533.34 L349.20,533.34 L351.01,533.34 L352.83,533.33 L354.64,533.33 L356.46,533.33 L358.27,533.33 L360.09,533.33 L361.90,533.33 L363.72,533.32 L365.53,533.32 L367.35,533.32 L369.16,533.32 L370.98,533.32 L372.79,533.32 L374.61,533.31 L376.42,533.31 L378.24,533.31 L380.05,533.31 L381.87,533.31 L383.68,533.31 L385.50,533.30 L387.31,533.30 L389.13,533.30 L390.94,533.30 L392.76,533.30 L394.57,533.30 L396.39,533.29 L398.20,533.29 L400.02,533.29 L401.83,533.29 L403.65,533.29 L405.46,533.29 L407.28,533.28 L409.09,533.28 L410.91,533.28 L412.72,533.28 L414.54,533.28 L416.35,533.27 L418.17,533.27 L419.98,533.27 L421.80,533.27 L423.62,533.27 L425.43,533.27 L427.25,533.26 L429.06,533.26 L430.88,533.26 L432.69,533.26 L434.50,533.26 L436.32,533.26 L438.13,533.25 L439.95,533.25 L441.76,533.25 L443.58,533.25 L445.39,533.25 L447.21,533.25 L449.02,533.24 L450.84,533.24 L452.65,533.24 L454.47,533.24 L456.28,533.24 L458.10,533.24 L459.91,533.23 L461.73,533.23 L463.54,533.23 L465.36,533.23 L467.17,533.23 L468.99,533.23 L470.80,533.22 L472.62,533.22 L474.43,533.22 L476.25,533.22 L478.06,533.22 L479.88,533.21 L481.69,533.21 L483.51,533.21 L485.32,533.21 L487.14,533.21 L488.95,533.21 L490.77,533.20 L492.58,533.20 L494.40,533.20 L496.21,533.20 L498.03,533.20 L499.84,533.20 L501.66,533.19 L503.47,533.19 L505.29,533.19 L507.11,533.19 L508.92,533.19 L510.73,533.19 L512.55,533.18 L514.37,533.18 L516.18,533.18 L518.00,533.18 L519.81,533.18 L521.62,533.18 L523.44,533.17 L525.25,533.17 L527.07,533.17 L528.88,533.17 L530.70,533.17" fill="none" stroke="#14a040" stroke-width="2.00" stroke-linejoin="round"/>
<path d="M312.90,476.06 L314.71,475.33 L316.53,474.61 L318.34,473.90 L320.16,473.18 L321.97,472.47 L323.79,471.76 L325.60,471.05 L327.42,470.35 L329.23,469.66 L331.05,468.97 L332.86,468.29 L334.68,467.62 L336.50,466.95 L338.31,466.29 L340.12,465.64 L341.94,464.99 L343.75,464.35 L345.57,463.71 L347.38,463.08 L349.20,462.46 L351.01,461.84 L352.83,461.23 L354.64,460.63 L356.46,460.03 L358.27,459.43 L360.09,458.84 L361.90,458.26 L363.72,457.67 L365.53,457.10 L367.35,456.52 L369.16,455.95 L370.98,455.38 L372.79,454.82 L374.61,454.25 L376.42,453.69 L378.24,453.14 L380.05,452.59 L381.87,452.04 L383.68,451.51 L385.50,450.97 L387.31,450.44 L389.13,449.92 L390.94,449.41 L392.76,448.90 L394.57,448.40 L396.39,447.90 L398.20,447.41 L400.02,446.92 L401.83,446.44 L403.65,445.97 L405.46,445.50 L407.28,445.04 L409.09,444.59 L410.91,444.14 L412.72,443.69 L414.54,443.25 L416.35,442.82 L418.17,442.38 L419.98,441.96 L421.80,441.53 L423.62,441.11 L425.43,440.69 L427.25,440.27 L429.06,439.86 L430.88,439.44 L432.69,439.03 L434.50,438.62 L436.32,438.20 L438.13,437.79 L439.95,437.38 L441.76,436.96 L443.58,436.55 L445.39,436.13 L447.21,435.71 L449.02,435.29 L450.84,434.86 L452.65,434.44 L454.47,434.00 L456.28,433.56 L458.10,433.12 L459.91,432.67 L461.73,432.22 L463.54,431.76 L465.36,431.29 L467.17,430.82 L468.99,430.33 L470.80,429.85 L472.62,429.35 L474.43,428.84 L476.25,428.33 L478.06,427.81 L479.88,427.28 L481.69,426.75 L483.51,426.20 L485.32,425.65 L487.14,425.09 L488.95,424.52 L490.77,423.95 L492.58,423.37 L494.40,422.78 L496.21,422.19 L498.03,421.59 L499.84,420.99 L501.66,420.38 L503.47,419.77 L505.29,419.16 L507.11,418.54 L508.92,417.92 L510.73,417.30 L512.55,416.68 L514.37,416.05 L516.18,415.42 L518.00,414.80 L519.81,414.17 L521.62,413.54 L523.44,412.91 L525.25,412.28 L527.07,411.66 L528.88,411.03 L530.70,410.40" fill="none" stroke="#f68a1a" stroke-width="2.00" stroke-linejoin="round"/>
<path d="M312.90,351.69 L314.71,351.13 L316.53,350.58 L318.34,350.03 L320.16,349.48 L321.97,348.94 L323.79,348.40 L325.60,347.87 L327.42,347.35 L329.23,346.84 L331.05,346.34 L332.86,345.85 L334.68,345.37 L336.50,344.90 L338.31,344.45 L340.12,344.02 L341.94,343.60 L343.75,343.19 L345.57,342.81 L347.38,342.44 L349.20,342.09 L351.01,341.75 L352.83,341.44 L354.64,341.14 L356.46,340.87 L358.27,340.61 L360.09,340.37 L361.90,340.15 L363.72,339.95 L365.53,339.77 L367.35,339.61 L369.16,339.46 L370.98,339.34 L372.79,339.23 L374.61,339.14 L376.42,339.07 L378.24,339.01 L380.05,338.98 L381.87,338.96 L383.68,338.96 L385.50,338.97 L387.31,339.01 L389.13,339.06 L390.94,339.12 L392.76,339.21 L394.57,339.31 L396.39,339.42 L398.20,339.56 L400.02,339.71 L401.83,339.87 L403.65,340.06 L405.46,340.26 L407.28,340.47 L409.09,340.70 L410.91,340.94 L412.72,341.19 L414.54,341.46 L416.35,341.73 L418.17,342.02 L419.98,342.32 L421.80,342.62 L423.62,342.93 L425.43,343.25 L427.25,343.58 L429.06,343.92 L430.88,344.25 L432.69,344.60 L434.50,344.95 L436.32,345.30 L438.13,345.66 L439.95,346.02 L441.76,346.39 L443.58,346.77 L445.39,347.15 L447.21,347.53 L449.02,347.93 L450.84,348.33 L452.65,348.73 L454.47,349.15 L456.28,349.58 L458.10,350.02 L459.91,350.47 L461.73,350.94 L463.54,351.42 L465.36,351.92 L467.17,352.44 L468.99,352.98 L470.80,353.54 L472.62,354.12 L474.43,354.72 L476.25,355.35 L478.06,356.00 L479.88,356.68 L481.69,357.38 L483.51,358.11 L485.32,358.86 L487.14,359.65 L488.95,360.45 L490.77,361.29 L492.58,362.15 L494.40,363.03 L496.21,363.94 L498.03,364.88 L499.84,365.84 L501.66,366.82 L503.47,367.83 L505.29,368.86 L507.11,369.91 L508.92,370.99 L510.73,372.09 L512.55,373.21 L514.37,374.35 L516.18,375.51 L518.00,376.69 L519.81,377.88 L521.62,379.09 L523.44,380.32 L525.25,381.55 L527.07,382.79 L528.88,384.03 L530.70,385.28" fill="none" stroke="#60bb4a" stroke-width="2.00" stroke-linejoin="round"/>
<path d="M312.90,316.46 L314.71,316.49 L316.53,316.52 L318.34,316.55 L320.16,316.58 L321.97,316.61 L323.79,316.65 L325.60,316.68 L327.42,316.72 L329.23,316.77 L331.05,316.81 L332.86,316.86 L334.68,316.92 L336.50,316.97 L338.31,317.03 L340.12,317.10 L341.94,317.17 L343.75,317.25 L345.57,317.34 L347.38,317.43 L349.20,317.53 L351.01,317.63 L352.83,317.74 L354.64,317.86 L356.46,317.99 L358.27,318.12 L360.09,318.26 L361.90,318.41 L363.72,318.57 L365.53,318.74 L367.35,318.91 L369.16,319.10 L370.98,319.29 L372.79,319.50 L374.61,319.72 L376.42,319.94 L378.24,320.18 L380.05,320.43 L381.87,320.69 L383.68,320.96 L385.50,321.24 L387.31,321.54 L389.13,321.85 L390.94,322.17 L392.76,322.50 L394.57,322.85 L396.39,323.21 L398.20,323.58 L400.02,323.97 L401.83,324.36 L403.65,324.77 L405.46,325.18 L407.28,325.61 L409.09,326.04 L410.91,326.49 L412.72,326.94 L414.54,327.40 L416.35,327.86 L418.17,328.33 L419.98,328.81 L421.80,329.29 L423.62,329.78 L425.43,330.27 L427.25,330.77 L429.06,331.26 L430.88,331.76 L432.69,332.27 L434.50,332.77 L436.32,333.28 L438.13,333.78 L439.95,334.30 L441.76,334.81 L443.58,335.33 L445.39,335.86 L447.21,336.39 L449.02,336.92 L450.84,337.47 L452.65,338.02 L454.47,338.59 L456.28,339.16 L458.10,339.76 L459.91,340.37 L461.73,341.00 L463.54,341.65 L465.36,342.31 L467.17,343.00 L468.99,343.70 L470.80,344.43 L472.62,345.18 L474.43,345.95 L476.25,346.75 L478.06,347.57 L479.88,348.41 L481.69,349.27 L483.51,350.15 L485.32,351.06 L487.14,351.99 L488.95,352.95 L490.77,353.92 L492.58,354.91 L494.40,355.93 L496.21,356.95 L498.03,358.00 L499.84,359.05 L501.66,360.12 L503.47,361.19 L505.29,362.28 L507.11,363.38 L508.92,364.48 L510.73,365.59 L512.55,366.71 L514.37,367.83 L516.18,368.95 L518.00,370.08 L519.81,371.22 L521.62,372.35 L523.44,373.49 L525.25,374.63 L527.07,375.77 L528.88,376.92 L530.70,378.06" fill="none" stroke="#1a1a1a" stroke-width="2.00" stroke-linejoin="round" stroke-dasharray="7.8,5.3"/>
<path d="M312.90,539.05 v-4.00 M312.90,312.90 v4.00 M320.16,539.05 v-2.20 M320.16,312.90 v2.20 M327.42,539.05 v-2.20 M327.42,312.90 v2.20 M334.68,539.05 v-2.20 M334.68,312.90 v2.20 M341.94,539.05 v-2.20 M341.94,312.90 v2.20 M349.20,539.05 v-4.00 M349.20,312.90 v4.00 M356.46,539.05 v-2.20 M356.46,312.90 v2.20 M363.72,539.05 v-2.20 M363.72,312.90 v2.20 M370.98,539.05 v-2.20 M370.98,312.90 v2.20 M378.24,539.05 v-2.20 M378.24,312.90 v2.20 M385.50,539.05 v-4.00 M385.50,312.90 v4.00 M392.76,539.05 v-2.20 M392.76,312.90 v2.20 M400.02,539.05 v-2.20 M400.02,312.90 v2.20 M407.28,539.05 v-2.20 M407.28,312.90 v2.20 M414.54,539.05 v-2.20 M414.54,312.90 v2.20 M421.80,539.05 v-4.00 M421.80,312.90 v4.00 M429.06,539.05 v-2.20 M429.06,312.90 v2.20 M436.32,539.05 v-2.20 M436.32,312.90 v2.20 M443.58,539.05 v-2.20 M443.58,312.90 v2.20 M450.84,539.05 v-2.20 M450.84,312.90 v2.20 M458.10,539.05 v-4.00 M458.10,312.90 v4.00 M465.36,539.05 v-2.20 M465.36,312.90 v2.20 M472.62,539.05 v-2.20 M472.62,312.90 v2.20 M479.88,539.05 v-2.20 M479.88,312.90 v2.20 M487.14,539.05 v-2.20 M487.14,312.90 v2.20 M494.40,539.05 v-4.00 M494.40,312.90 v4.00 M501.66,539.05 v-2.20 M501.66,312.90 v2.20 M508.92,539.05 v-2.20 M508.92,312.90 v2.20 M516.18,539.05 v-2.20 M516.18,312.90 v2.20 M523.44,539.05 v-2.20 M523.44,312.90 v2.20 M530.70,539.05 v-4.00 M530.70,312.90 v4.00 M308.80,534.40 h4.00 M535.30,534.40 h-4.00 M308.80,526.18 h2.20 M535.30,526.18 h-2.20 M308.80,517.96 h2.20 M535.30,517.96 h-2.20 M308.80,509.74 h2.20 M535.30,509.74 h-2.20 M308.80,501.52 h2.20 M535.30,501.52 h-2.20 M308.80,493.30 h4.00 M535.30,493.30 h-4.00 M308.80,485.08 h2.20 M535.30,485.08 h-2.20 M308.80,476.86 h2.20 M535.30,476.86 h-2.20 M308.80,468.64 h2.20 M535.30,468.64 h-2.20 M308.80,460.42 h2.20 M535.30,460.42 h-2.20 M308.80,452.20 h4.00 M535.30,452.20 h-4.00 M308.80,443.98 h2.20 M535.30,443.98 h-2.20 M308.80,435.76 h2.20 M535.30,435.76 h-2.20 M308.80,427.54 h2.20 M535.30,427.54 h-2.20 M308.80,419.32 h2.20 M535.30,419.32 h-2.20 M308.80,411.10 h4.00 M535.30,411.10 h-4.00 M308.80,402.88 h2.20 M535.30,402.88 h-2.20 M308.80,394.66 h2.20 M535.30,394.66 h-2.20 M308.80,386.44 h2.20 M535.30,386.44 h-2.20 M308.80,378.22 h2.20 M535.30,378.22 h-2.20 M308.80,370.00 h4.00 M535.30,370.00 h-4.00 M308.80,361.78 h2.20 M535.30,361.78 h-2.20 M308.80,353.56 h2.20 M535.30,353.56 h-2.20 M308.80,345.34 h2.20 M535.30,345.34 h-2.20 M308.80,337.12 h2.20 M535.30,337.12 h-2.20 M308.80,328.90 h4.00 M535.30,328.90 h-4.00 M308.80,320.68 h2.20 M535.30,320.68 h-2.20" stroke="#1a1a1a" stroke-width="1.15" fill="none"/>
<rect x="308.80" y="312.90" width="226.50" height="226.15" fill="none" stroke="#474747" stroke-width="1.15"/>
<text x="303.40" y="539.10" text-anchor="end" class="t">0</text>
<text x="303.40" y="498.00" text-anchor="end" class="t">0.1</text>
<text x="303.40" y="456.90" text-anchor="end" class="t">0.2</text>
<text x="303.40" y="415.80" text-anchor="end" class="t">0.3</text>
<text x="303.40" y="374.70" text-anchor="end" class="t">0.4</text>
<text x="303.40" y="333.60" text-anchor="end" class="t">0.5</text>
<text x="312.90" y="556.55" text-anchor="middle" class="t">0</text>
<text x="349.20" y="556.55" text-anchor="middle" class="t">0.5</text>
<text x="385.50" y="556.55" text-anchor="middle" class="t">1.0</text>
<text x="421.80" y="556.55" text-anchor="middle" class="t">1.5</text>
<text x="458.10" y="556.55" text-anchor="middle" class="t">2.0</text>
<text x="494.40" y="556.55" text-anchor="middle" class="t">2.5</text>
<text x="530.70" y="556.55" text-anchor="middle" class="t">3.0</text>
<text x="422.05" y="578.25" text-anchor="middle" class="eps">&#x3F5;</text>
<path d="M571.80,534.06 L573.62,534.06 L575.43,534.06 L577.25,534.06 L579.06,534.06 L580.88,534.06 L582.69,534.06 L584.50,534.06 L586.32,534.06 L588.13,534.06 L589.95,534.06 L591.76,534.06 L593.58,534.06 L595.39,534.06 L597.21,534.06 L599.02,534.06 L600.84,534.06 L602.65,534.06 L604.47,534.06 L606.28,534.06 L608.10,534.06 L609.91,534.06 L611.73,534.06 L613.54,534.06 L615.36,534.06 L617.17,534.06 L618.99,534.06 L620.80,534.06 L622.62,534.06 L624.43,534.06 L626.25,534.06 L628.06,534.06 L629.88,534.06 L631.69,534.06 L633.51,534.06 L635.32,534.06 L637.14,534.06 L638.95,534.06 L640.77,534.06 L642.58,534.06 L644.40,534.06 L646.21,534.06 L648.03,534.06 L649.84,534.06 L651.66,534.06 L653.47,534.06 L655.29,534.06 L657.10,534.06 L658.92,534.06 L660.73,534.06 L662.55,534.06 L664.37,534.06 L666.18,534.06 L668.00,534.06 L669.81,534.06 L671.62,534.06 L673.44,534.06 L675.25,534.06 L677.07,534.06 L678.88,534.06 L680.70,534.06 L682.51,534.06 L684.33,534.06 L686.14,534.06 L687.96,534.06 L689.77,534.06 L691.59,534.06 L693.40,534.06 L695.22,534.06 L697.03,534.06 L698.85,534.06 L700.66,534.06 L702.48,534.06 L704.29,534.06 L706.11,534.06 L707.92,534.06 L709.74,534.06 L711.55,534.06 L713.37,534.06 L715.18,534.06 L717.00,534.06 L718.81,534.06 L720.63,534.06 L722.44,534.06 L724.26,534.06 L726.07,534.06 L727.89,534.06 L729.70,534.06 L731.52,534.06 L733.33,534.06 L735.15,534.06 L736.96,534.06 L738.78,534.06 L740.59,534.06 L742.41,534.06 L744.22,534.06 L746.04,534.06 L747.86,534.06 L749.67,534.06 L751.48,534.06 L753.30,534.06 L755.12,534.06 L756.93,534.06 L758.74,534.06 L760.56,534.06 L762.38,534.06 L764.19,534.06 L766.00,534.06 L767.82,534.06 L769.63,534.06 L771.45,534.06 L773.26,534.06 L775.08,534.06 L776.89,534.06 L778.71,534.06 L780.52,534.06 L782.34,534.06 L784.15,534.06 L785.97,534.06 L787.78,534.06 L789.60,534.06" fill="none" stroke="#ec2a33" stroke-width="2.00" stroke-linejoin="round"/>
<path d="M571.80,534.51 L573.62,534.51 L575.43,534.51 L577.25,534.51 L579.06,534.51 L580.88,534.51 L582.69,534.51 L584.50,534.51 L586.32,534.51 L588.13,534.51 L589.95,534.51 L591.76,534.51 L593.58,534.51 L595.39,534.51 L597.21,534.51 L599.02,534.51 L600.84,534.51 L602.65,534.51 L604.47,534.51 L606.28,534.51 L608.10,534.51 L609.91,534.51 L611.73,534.51 L613.54,534.51 L615.36,534.51 L617.17,534.51 L618.99,534.51 L620.80,534.51 L622.62,534.51 L624.43,534.51 L626.25,534.51 L628.06,534.51 L629.88,534.51 L631.69,534.51 L633.51,534.51 L635.32,534.51 L637.14,534.51 L638.95,534.51 L640.77,534.51 L642.58,534.51 L644.40,534.51 L646.21,534.51 L648.03,534.51 L649.84,534.51 L651.66,534.51 L653.47,534.51 L655.29,534.51 L657.10,534.51 L658.92,534.51 L660.73,534.51 L662.55,534.51 L664.37,534.51 L666.18,534.51 L668.00,534.51 L669.81,534.51 L671.62,534.51 L673.44,534.51 L675.25,534.51 L677.07,534.51 L678.88,534.51 L680.70,534.51 L682.51,534.51 L684.33,534.51 L686.14,534.51 L687.96,534.51 L689.77,534.51 L691.59,534.51 L693.40,534.51 L695.22,534.51 L697.03,534.51 L698.85,534.51 L700.66,534.51 L702.48,534.51 L704.29,534.51 L706.11,534.51 L707.92,534.51 L709.74,534.51 L711.55,534.51 L713.37,534.51 L715.18,534.51 L717.00,534.51 L718.81,534.51 L720.63,534.51 L722.44,534.51 L724.26,534.51 L726.07,534.51 L727.89,534.51 L729.70,534.51 L731.52,534.51 L733.33,534.51 L735.15,534.51 L736.96,534.51 L738.78,534.51 L740.59,534.51 L742.41,534.51 L744.22,534.51 L746.04,534.51 L747.86,534.51 L749.67,534.51 L751.48,534.51 L753.30,534.51 L755.12,534.51 L756.93,534.51 L758.74,534.51 L760.56,534.51 L762.38,534.51 L764.19,534.51 L766.00,534.51 L767.82,534.51 L769.63,534.51 L771.45,534.51 L773.26,534.51 L775.08,534.51 L776.89,534.51 L778.71,534.51 L780.52,534.51 L782.34,534.51 L784.15,534.51 L785.97,534.51 L787.78,534.51 L789.60,534.51" fill="none" stroke="#14a040" stroke-width="2.00" stroke-linejoin="round"/>
<path d="M571.80,532.03 L573.62,531.86 L575.43,531.68 L577.25,531.50 L579.06,531.33 L580.88,531.15 L582.69,530.97 L584.50,530.79 L586.32,530.61 L588.13,530.42 L589.95,530.24 L591.76,530.05 L593.58,529.86 L595.39,529.66 L597.21,529.47 L599.02,529.27 L600.84,529.07 L602.65,528.88 L604.47,528.68 L606.28,528.48 L608.10,528.27 L609.91,528.07 L611.73,527.87 L613.54,527.67 L615.36,527.46 L617.17,527.26 L618.99,527.06 L620.80,526.85 L622.62,526.65 L624.43,526.44 L626.25,526.24 L628.06,526.04 L629.88,525.83 L631.69,525.63 L633.51,525.42 L635.32,525.21 L637.14,525.01 L638.95,524.79 L640.77,524.58 L642.58,524.36 L644.40,524.14 L646.21,523.92 L648.03,523.69 L649.84,523.46 L651.66,523.23 L653.47,523.00 L655.29,522.77 L657.10,522.54 L658.92,522.31 L660.73,522.07 L662.55,521.84 L664.37,521.61 L666.18,521.37 L668.00,521.14 L669.81,520.91 L671.62,520.68 L673.44,520.45 L675.25,520.22 L677.07,519.99 L678.88,519.77 L680.70,519.54 L682.51,519.32 L684.33,519.10 L686.14,518.89 L687.96,518.67 L689.77,518.46 L691.59,518.25 L693.40,518.04 L695.22,517.84 L697.03,517.64 L698.85,517.44 L700.66,517.25 L702.48,517.06 L704.29,516.87 L706.11,516.68 L707.92,516.50 L709.74,516.32 L711.55,516.14 L713.37,515.96 L715.18,515.78 L717.00,515.61 L718.81,515.43 L720.63,515.26 L722.44,515.08 L724.26,514.91 L726.07,514.74 L727.89,514.57 L729.70,514.41 L731.52,514.25 L733.33,514.09 L735.15,513.93 L736.96,513.77 L738.78,513.62 L740.59,513.47 L742.41,513.33 L744.22,513.18 L746.04,513.04 L747.86,512.90 L749.67,512.77 L751.48,512.64 L753.30,512.51 L755.12,512.38 L756.93,512.26 L758.74,512.14 L760.56,512.02 L762.38,511.90 L764.19,511.79 L766.00,511.67 L767.82,511.56 L769.63,511.45 L771.45,511.35 L773.26,511.24 L775.08,511.13 L776.89,511.03 L778.71,510.92 L780.52,510.82 L782.34,510.71 L784.15,510.61 L785.97,510.51 L787.78,510.40 L789.60,510.30" fill="none" stroke="#f68a1a" stroke-width="2.00" stroke-linejoin="round"/>
<path d="M571.80,438.77 L573.62,439.37 L575.43,439.97 L577.25,440.57 L579.06,441.18 L580.88,441.81 L582.69,442.44 L584.50,443.09 L586.32,443.76 L588.13,444.45 L589.95,445.16 L591.76,445.90 L593.58,446.66 L595.39,447.44 L597.21,448.24 L599.02,449.07 L600.84,449.93 L602.65,450.81 L604.47,451.72 L606.28,452.65 L608.10,453.61 L609.91,454.59 L611.73,455.60 L613.54,456.63 L615.36,457.69 L617.17,458.76 L618.99,459.85 L620.80,460.96 L622.62,462.09 L624.43,463.22 L626.25,464.37 L628.06,465.53 L629.88,466.69 L631.69,467.87 L633.51,469.04 L635.32,470.22 L637.14,471.39 L638.95,472.57 L640.77,473.73 L642.58,474.89 L644.40,476.05 L646.21,477.19 L648.03,478.32 L649.84,479.43 L651.66,480.54 L653.47,481.63 L655.29,482.70 L657.10,483.76 L658.92,484.80 L660.73,485.83 L662.55,486.84 L664.37,487.83 L666.18,488.80 L668.00,489.75 L669.81,490.69 L671.62,491.61 L673.44,492.51 L675.25,493.39 L677.07,494.25 L678.88,495.09 L680.70,495.91 L682.51,496.71 L684.33,497.49 L686.14,498.26 L687.96,499.00 L689.77,499.73 L691.59,500.43 L693.40,501.12 L695.22,501.78 L697.03,502.43 L698.85,503.06 L700.66,503.67 L702.48,504.26 L704.29,504.84 L706.11,505.40 L707.92,505.94 L709.74,506.46 L711.55,506.98 L713.37,507.47 L715.18,507.96 L717.00,508.43 L718.81,508.90 L720.63,509.35 L722.44,509.79 L724.26,510.23 L726.07,510.65 L727.89,511.07 L729.70,511.47 L731.52,511.87 L733.33,512.27 L735.15,512.65 L736.96,513.03 L738.78,513.41 L740.59,513.78 L742.41,514.14 L744.22,514.50 L746.04,514.85 L747.86,515.19 L749.67,515.53 L751.48,515.87 L753.30,516.19 L755.12,516.51 L756.93,516.83 L758.74,517.13 L760.56,517.43 L762.38,517.73 L764.19,518.02 L766.00,518.30 L767.82,518.58 L769.63,518.85 L771.45,519.12 L773.26,519.39 L775.08,519.65 L776.89,519.90 L778.71,520.16 L780.52,520.41 L782.34,520.66 L784.15,520.91 L785.97,521.15 L787.78,521.40 L789.60,521.64" fill="none" stroke="#4050a0" stroke-width="2.00" stroke-linejoin="round"/>
<path d="M571.80,412.19 L573.62,411.79 L575.43,411.39 L577.25,410.99 L579.06,410.58 L580.88,410.17 L582.69,409.75 L584.50,409.33 L586.32,408.90 L588.13,408.46 L589.95,408.02 L591.76,407.56 L593.58,407.09 L595.39,406.62 L597.21,406.13 L599.02,405.63 L600.84,405.12 L602.65,404.60 L604.47,404.06 L606.28,403.51 L608.10,402.95 L609.91,402.38 L611.73,401.79 L613.54,401.20 L615.36,400.59 L617.17,399.98 L618.99,399.36 L620.80,398.73 L622.62,398.10 L624.43,397.45 L626.25,396.81 L628.06,396.16 L629.88,395.51 L631.69,394.85 L633.51,394.20 L635.32,393.55 L637.14,392.90 L638.95,392.25 L640.77,391.61 L642.58,390.97 L644.40,390.33 L646.21,389.71 L648.03,389.09 L649.84,388.48 L651.66,387.88 L653.47,387.29 L655.29,386.71 L657.10,386.14 L658.92,385.58 L660.73,385.03 L662.55,384.50 L664.37,383.98 L666.18,383.47 L668.00,382.97 L669.81,382.49 L671.62,382.02 L673.44,381.57 L675.25,381.12 L677.07,380.70 L678.88,380.28 L680.70,379.88 L682.51,379.49 L684.33,379.12 L686.14,378.76 L687.96,378.41 L689.77,378.08 L691.59,377.75 L693.40,377.45 L695.22,377.15 L697.03,376.87 L698.85,376.60 L700.66,376.34 L702.48,376.09 L704.29,375.85 L706.11,375.62 L707.92,375.40 L709.74,375.19 L711.55,374.99 L713.37,374.79 L715.18,374.59 L717.00,374.41 L718.81,374.23 L720.63,374.05 L722.44,373.88 L724.26,373.72 L726.07,373.56 L727.89,373.41 L729.70,373.27 L731.52,373.13 L733.33,373.00 L735.15,372.87 L736.96,372.75 L738.78,372.64 L740.59,372.54 L742.41,372.44 L744.22,372.34 L746.04,372.26 L747.86,372.18 L749.67,372.11 L751.48,372.04 L753.30,371.99 L755.12,371.94 L756.93,371.89 L758.74,371.86 L760.56,371.83 L762.38,371.80 L764.19,371.79 L766.00,371.77 L767.82,371.77 L769.63,371.76 L771.45,371.77 L773.26,371.77 L775.08,371.79 L776.89,371.80 L778.71,371.82 L780.52,371.84 L782.34,371.86 L784.15,371.89 L785.97,371.91 L787.78,371.94 L789.60,371.96" fill="none" stroke="#60bb4a" stroke-width="2.00" stroke-linejoin="round"/>
<path d="M571.80,316.58 L573.62,316.89 L575.43,317.21 L577.25,317.52 L579.06,317.84 L580.88,318.15 L582.69,318.47 L584.50,318.79 L586.32,319.11 L588.13,319.44 L589.95,319.76 L591.76,320.09 L593.58,320.42 L595.39,320.76 L597.21,321.10 L599.02,321.45 L600.84,321.80 L602.65,322.15 L604.47,322.51 L606.28,322.88 L608.10,323.26 L609.91,323.64 L611.73,324.02 L613.54,324.42 L615.36,324.81 L617.17,325.22 L618.99,325.63 L620.80,326.04 L622.62,326.46 L624.43,326.89 L626.25,327.32 L628.06,327.75 L629.88,328.19 L631.69,328.63 L633.51,329.07 L635.32,329.52 L637.14,329.97 L638.95,330.43 L640.77,330.88 L642.58,331.34 L644.40,331.80 L646.21,332.26 L648.03,332.72 L649.84,333.18 L651.66,333.65 L653.47,334.11 L655.29,334.57 L657.10,335.03 L658.92,335.49 L660.73,335.95 L662.55,336.41 L664.37,336.86 L666.18,337.31 L668.00,337.76 L669.81,338.21 L671.62,338.65 L673.44,339.09 L675.25,339.52 L677.07,339.95 L678.88,340.37 L680.70,340.79 L682.51,341.20 L684.33,341.61 L686.14,342.01 L687.96,342.40 L689.77,342.79 L691.59,343.18 L693.40,343.56 L695.22,343.93 L697.03,344.30 L698.85,344.66 L700.66,345.02 L702.48,345.37 L704.29,345.71 L706.11,346.05 L707.92,346.39 L709.74,346.73 L711.55,347.06 L713.37,347.38 L715.18,347.71 L717.00,348.03 L718.81,348.35 L720.63,348.66 L722.44,348.97 L724.26,349.28 L726.07,349.59 L727.89,349.89 L729.70,350.19 L731.52,350.49 L733.33,350.79 L735.15,351.08 L736.96,351.38 L738.78,351.67 L740.59,351.96 L742.41,352.25 L744.22,352.53 L746.04,352.82 L747.86,353.10 L749.67,353.38 L751.48,353.65 L753.30,353.93 L755.12,354.20 L756.93,354.46 L758.74,354.73 L760.56,354.99 L762.38,355.25 L764.19,355.51 L766.00,355.76 L767.82,356.01 L769.63,356.26 L771.45,356.50 L773.26,356.74 L775.08,356.98 L776.89,357.22 L778.71,357.45 L780.52,357.68 L782.34,357.91 L784.15,358.14 L785.97,358.37 L787.78,358.60 L789.60,358.83" fill="none" stroke="#1a1a1a" stroke-width="2.00" stroke-linejoin="round" stroke-dasharray="7.8,5.3"/>
<path d="M571.80,539.05 v-4.00 M571.80,312.90 v4.00 M579.06,539.05 v-2.20 M579.06,312.90 v2.20 M586.32,539.05 v-2.20 M586.32,312.90 v2.20 M593.58,539.05 v-2.20 M593.58,312.90 v2.20 M600.84,539.05 v-2.20 M600.84,312.90 v2.20 M608.10,539.05 v-4.00 M608.10,312.90 v4.00 M615.36,539.05 v-2.20 M615.36,312.90 v2.20 M622.62,539.05 v-2.20 M622.62,312.90 v2.20 M629.88,539.05 v-2.20 M629.88,312.90 v2.20 M637.14,539.05 v-2.20 M637.14,312.90 v2.20 M644.40,539.05 v-4.00 M644.40,312.90 v4.00 M651.66,539.05 v-2.20 M651.66,312.90 v2.20 M658.92,539.05 v-2.20 M658.92,312.90 v2.20 M666.18,539.05 v-2.20 M666.18,312.90 v2.20 M673.44,539.05 v-2.20 M673.44,312.90 v2.20 M680.70,539.05 v-4.00 M680.70,312.90 v4.00 M687.96,539.05 v-2.20 M687.96,312.90 v2.20 M695.22,539.05 v-2.20 M695.22,312.90 v2.20 M702.48,539.05 v-2.20 M702.48,312.90 v2.20 M709.74,539.05 v-2.20 M709.74,312.90 v2.20 M717.00,539.05 v-4.00 M717.00,312.90 v4.00 M724.26,539.05 v-2.20 M724.26,312.90 v2.20 M731.52,539.05 v-2.20 M731.52,312.90 v2.20 M738.78,539.05 v-2.20 M738.78,312.90 v2.20 M746.04,539.05 v-2.20 M746.04,312.90 v2.20 M753.30,539.05 v-4.00 M753.30,312.90 v4.00 M760.56,539.05 v-2.20 M760.56,312.90 v2.20 M767.82,539.05 v-2.20 M767.82,312.90 v2.20 M775.08,539.05 v-2.20 M775.08,312.90 v2.20 M782.34,539.05 v-2.20 M782.34,312.90 v2.20 M789.60,539.05 v-4.00 M789.60,312.90 v4.00 M567.80,534.40 h4.00 M794.20,534.40 h-4.00 M567.80,523.21 h2.20 M794.20,523.21 h-2.20 M567.80,512.02 h2.20 M794.20,512.02 h-2.20 M567.80,500.84 h2.20 M794.20,500.84 h-2.20 M567.80,489.65 h4.00 M794.20,489.65 h-4.00 M567.80,478.46 h2.20 M794.20,478.46 h-2.20 M567.80,467.27 h2.20 M794.20,467.27 h-2.20 M567.80,456.09 h2.20 M794.20,456.09 h-2.20 M567.80,444.90 h4.00 M794.20,444.90 h-4.00 M567.80,433.71 h2.20 M794.20,433.71 h-2.20 M567.80,422.52 h2.20 M794.20,422.52 h-2.20 M567.80,411.34 h2.20 M794.20,411.34 h-2.20 M567.80,400.15 h4.00 M794.20,400.15 h-4.00 M567.80,388.96 h2.20 M794.20,388.96 h-2.20 M567.80,377.77 h2.20 M794.20,377.77 h-2.20 M567.80,366.59 h2.20 M794.20,366.59 h-2.20 M567.80,355.40 h4.00 M794.20,355.40 h-4.00 M567.80,344.21 h2.20 M794.20,344.21 h-2.20 M567.80,333.02 h2.20 M794.20,333.02 h-2.20 M567.80,321.84 h2.20 M794.20,321.84 h-2.20" stroke="#1a1a1a" stroke-width="1.15" fill="none"/>
<rect x="567.80" y="312.90" width="226.40" height="226.15" fill="none" stroke="#474747" stroke-width="1.15"/>
<text x="562.40" y="539.10" text-anchor="end" class="t">0</text>
<text x="562.40" y="494.35" text-anchor="end" class="t">0.2</text>
<text x="562.40" y="449.60" text-anchor="end" class="t">0.4</text>
<text x="562.40" y="404.85" text-anchor="end" class="t">0.6</text>
<text x="562.40" y="360.10" text-anchor="end" class="t">0.8</text>
<text x="571.80" y="556.55" text-anchor="middle" class="t">0</text>
<text x="608.10" y="556.55" text-anchor="middle" class="t">0.5</text>
<text x="644.40" y="556.55" text-anchor="middle" class="t">1.0</text>
<text x="680.70" y="556.55" text-anchor="middle" class="t">1.5</text>
<text x="717.00" y="556.55" text-anchor="middle" class="t">2.0</text>
<text x="753.30" y="556.55" text-anchor="middle" class="t">2.5</text>
<text x="789.60" y="556.55" text-anchor="middle" class="t">3.0</text>
<text x="681.00" y="578.25" text-anchor="middle" class="eps">&#x3F5;</text>
<text x="161.25" y="12.6" text-anchor="middle" class="ti"><tspan font-style="italic">u</tspan> = 0.5</text>
<text x="422.05" y="12.6" text-anchor="middle" class="ti"><tspan font-style="italic">u</tspan> = 1.0</text>
<text x="681.00" y="12.6" text-anchor="middle" class="ti"><tspan font-style="italic">u</tspan> = 2.0</text>
<text transform="translate(12.6,136.18) rotate(-90)" text-anchor="middle" class="fq">frequency</text>
<text transform="translate(12.6,425.97) rotate(-90)" text-anchor="middle" class="fq">frequency</text>
<text x="61.2" y="49.8" class="t2">punishment</text>
<text x="61.1" y="337.8" class="t2">reward</text>
<path d="M206.8,61.20 H227.8" stroke="#4050a0" stroke-width="2.00"/>
<text x="233.3" y="65.50" class="lg">ACC</text>
<path d="M206.8,75.55 H227.8" stroke="#60bb4a" stroke-width="2.00"/>
<text x="233.3" y="79.85" class="lg">ACD</text>
<path d="M206.8,89.90 H227.8" stroke="#ec2a33" stroke-width="2.00"/>
<text x="233.3" y="94.20" class="lg">ADC</text>
<path d="M206.8,104.25 H227.8" stroke="#ab1e29" stroke-width="2.00"/>
<text x="233.3" y="108.55" class="lg">ADD</text>
<path d="M206.8,118.60 H227.8" stroke="#065493" stroke-width="2.00"/>
<text x="233.3" y="122.90" class="lg">NCC</text>
<path d="M206.8,132.95 H227.8" stroke="#a87a44" stroke-width="2.00"/>
<text x="233.3" y="137.25" class="lg">NCD</text>
<path d="M206.8,147.30 H227.8" stroke="#159098" stroke-width="2.00"/>
<text x="233.3" y="151.60" class="lg">NDC</text>
<path d="M206.8,161.65 H227.8" stroke="#f68a1a" stroke-width="2.00"/>
<text x="233.3" y="165.95" class="lg">NDD</text>
<path d="M206.8,186.1 H227.8" stroke="#1a1a1a" stroke-width="2.00" stroke-dasharray="5.4,2.8"/>
<text x="233.3" y="184.2" class="lg">total</text>
<text x="233.3" y="199.2" class="lg">coop</text>
</svg>
</body></html>
